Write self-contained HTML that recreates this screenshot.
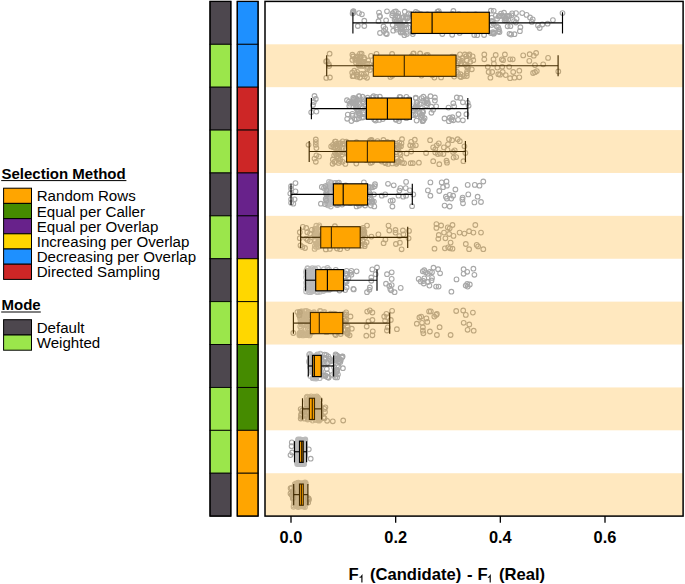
<!DOCTYPE html><html><head><meta charset="utf-8"><style>html,body{margin:0;padding:0;background:#fff;}svg{display:block;}text{font-family:"Liberation Sans",sans-serif;}</style></head><body><svg width="685" height="584" viewBox="0 0 685 584"><rect width="685" height="584" fill="#fff"/><rect x="210.0" y="1.40" width="20.85" height="42.89" fill="#4d474e" stroke="#000" stroke-width="0.9"/><rect x="210.0" y="44.29" width="20.85" height="42.89" fill="#9be64b" stroke="#000" stroke-width="0.9"/><rect x="210.0" y="87.18" width="20.85" height="42.89" fill="#4d474e" stroke="#000" stroke-width="0.9"/><rect x="210.0" y="130.08" width="20.85" height="42.89" fill="#9be64b" stroke="#000" stroke-width="0.9"/><rect x="210.0" y="172.97" width="20.85" height="42.89" fill="#4d474e" stroke="#000" stroke-width="0.9"/><rect x="210.0" y="215.86" width="20.85" height="42.89" fill="#9be64b" stroke="#000" stroke-width="0.9"/><rect x="210.0" y="258.75" width="20.85" height="42.89" fill="#4d474e" stroke="#000" stroke-width="0.9"/><rect x="210.0" y="301.64" width="20.85" height="42.89" fill="#9be64b" stroke="#000" stroke-width="0.9"/><rect x="210.0" y="344.53" width="20.85" height="42.89" fill="#4d474e" stroke="#000" stroke-width="0.9"/><rect x="210.0" y="387.43" width="20.85" height="42.89" fill="#9be64b" stroke="#000" stroke-width="0.9"/><rect x="210.0" y="430.32" width="20.85" height="42.89" fill="#9be64b" stroke="#000" stroke-width="0.9"/><rect x="210.0" y="473.21" width="20.85" height="42.89" fill="#4d474e" stroke="#000" stroke-width="0.9"/><rect x="210.0" y="1.40" width="20.85" height="514.70" fill="none" stroke="#000" stroke-width="1.3"/><rect x="237.25" y="1.40" width="20.85" height="42.89" fill="#1e90ff" stroke="#000" stroke-width="0.9"/><rect x="237.25" y="44.29" width="20.85" height="42.89" fill="#1e90ff" stroke="#000" stroke-width="0.9"/><rect x="237.25" y="87.18" width="20.85" height="42.89" fill="#cd2626" stroke="#000" stroke-width="0.9"/><rect x="237.25" y="130.08" width="20.85" height="42.89" fill="#cd2626" stroke="#000" stroke-width="0.9"/><rect x="237.25" y="172.97" width="20.85" height="42.89" fill="#68228b" stroke="#000" stroke-width="0.9"/><rect x="237.25" y="215.86" width="20.85" height="42.89" fill="#68228b" stroke="#000" stroke-width="0.9"/><rect x="237.25" y="258.75" width="20.85" height="42.89" fill="#ffd700" stroke="#000" stroke-width="0.9"/><rect x="237.25" y="301.64" width="20.85" height="42.89" fill="#ffd700" stroke="#000" stroke-width="0.9"/><rect x="237.25" y="344.53" width="20.85" height="42.89" fill="#458b00" stroke="#000" stroke-width="0.9"/><rect x="237.25" y="387.43" width="20.85" height="42.89" fill="#458b00" stroke="#000" stroke-width="0.9"/><rect x="237.25" y="430.32" width="20.85" height="42.89" fill="#ffa500" stroke="#000" stroke-width="0.9"/><rect x="237.25" y="473.21" width="20.85" height="42.89" fill="#ffa500" stroke="#000" stroke-width="0.9"/><rect x="237.25" y="1.40" width="20.85" height="514.70" fill="none" stroke="#000" stroke-width="1.3"/><g fill="none" stroke="#bababa" stroke-width="1.1"><circle cx="330.8" cy="191.8" r="2.35"/><circle cx="331.8" cy="188.5" r="2.35"/><circle cx="332.9" cy="196.3" r="2.35"/><circle cx="329.2" cy="201.0" r="2.35"/><circle cx="329.7" cy="186.3" r="2.35"/><circle cx="331.5" cy="183.1" r="2.35"/><circle cx="331.9" cy="188.3" r="2.35"/><circle cx="330.8" cy="206.5" r="2.35"/><circle cx="330.5" cy="198.5" r="2.35"/><circle cx="328.9" cy="182.0" r="2.35"/><circle cx="327.2" cy="185.6" r="2.35"/><circle cx="330.7" cy="192.7" r="2.35"/><circle cx="330.1" cy="204.3" r="2.35"/><circle cx="327.8" cy="187.6" r="2.35"/><circle cx="330.9" cy="182.5" r="2.35"/><circle cx="327.0" cy="190.8" r="2.35"/><circle cx="327.6" cy="190.8" r="2.35"/><circle cx="328.3" cy="196.5" r="2.35"/><circle cx="330.5" cy="187.0" r="2.35"/><circle cx="330.7" cy="193.8" r="2.35"/><circle cx="327.8" cy="205.3" r="2.35"/><circle cx="328.5" cy="185.6" r="2.35"/><circle cx="327.6" cy="197.9" r="2.35"/><circle cx="332.2" cy="201.5" r="2.35"/><circle cx="329.4" cy="188.5" r="2.35"/><circle cx="327.1" cy="198.0" r="2.35"/><circle cx="330.4" cy="190.7" r="2.35"/><circle cx="330.9" cy="193.0" r="2.35"/><circle cx="332.6" cy="200.3" r="2.35"/><circle cx="328.5" cy="204.5" r="2.35"/><circle cx="327.3" cy="195.2" r="2.35"/><circle cx="329.4" cy="187.9" r="2.35"/><circle cx="327.4" cy="201.4" r="2.35"/><circle cx="327.1" cy="195.7" r="2.35"/><circle cx="332.6" cy="185.5" r="2.35"/><circle cx="328.2" cy="197.1" r="2.35"/><circle cx="330.0" cy="198.0" r="2.35"/><circle cx="331.9" cy="186.3" r="2.35"/><circle cx="328.9" cy="189.4" r="2.35"/><circle cx="327.3" cy="204.1" r="2.35"/><circle cx="331.7" cy="199.8" r="2.35"/><circle cx="327.0" cy="203.0" r="2.35"/><circle cx="331.5" cy="193.5" r="2.35"/><circle cx="331.5" cy="193.2" r="2.35"/><circle cx="328.4" cy="184.5" r="2.35"/><circle cx="317.8" cy="233.7" r="2.35"/><circle cx="316.4" cy="234.7" r="2.35"/><circle cx="319.3" cy="227.0" r="2.35"/><circle cx="319.3" cy="225.4" r="2.35"/><circle cx="315.2" cy="231.4" r="2.35"/><circle cx="319.4" cy="237.3" r="2.35"/><circle cx="316.3" cy="246.9" r="2.35"/><circle cx="315.4" cy="236.3" r="2.35"/><circle cx="317.2" cy="243.7" r="2.35"/><circle cx="318.5" cy="241.0" r="2.35"/><circle cx="316.1" cy="233.0" r="2.35"/><circle cx="314.9" cy="245.9" r="2.35"/><circle cx="318.0" cy="243.4" r="2.35"/><circle cx="315.0" cy="235.8" r="2.35"/><circle cx="318.6" cy="239.3" r="2.35"/><circle cx="314.8" cy="236.4" r="2.35"/><circle cx="319.3" cy="230.8" r="2.35"/><circle cx="315.1" cy="232.3" r="2.35"/><circle cx="318.2" cy="245.9" r="2.35"/><circle cx="314.9" cy="228.7" r="2.35"/><circle cx="315.5" cy="233.0" r="2.35"/><circle cx="317.1" cy="228.8" r="2.35"/><circle cx="316.0" cy="229.5" r="2.35"/><circle cx="319.9" cy="243.0" r="2.35"/><circle cx="314.6" cy="248.9" r="2.35"/><circle cx="314.6" cy="234.4" r="2.35"/><circle cx="319.9" cy="244.7" r="2.35"/><circle cx="318.4" cy="235.7" r="2.35"/><circle cx="315.2" cy="240.8" r="2.35"/><circle cx="314.6" cy="230.0" r="2.35"/><circle cx="316.3" cy="225.7" r="2.35"/><circle cx="316.4" cy="244.6" r="2.35"/><circle cx="318.2" cy="237.3" r="2.35"/><circle cx="317.8" cy="236.4" r="2.35"/><circle cx="314.9" cy="239.9" r="2.35"/><circle cx="316.4" cy="243.3" r="2.35"/><circle cx="319.4" cy="235.6" r="2.35"/><circle cx="317.4" cy="243.5" r="2.35"/><circle cx="316.5" cy="230.5" r="2.35"/><circle cx="318.3" cy="246.8" r="2.35"/><circle cx="312.3" cy="268.1" r="2.35"/><circle cx="306.1" cy="291.5" r="2.35"/><circle cx="312.6" cy="273.9" r="2.35"/><circle cx="307.0" cy="271.3" r="2.35"/><circle cx="308.3" cy="287.1" r="2.35"/><circle cx="309.5" cy="271.5" r="2.35"/><circle cx="315.0" cy="287.5" r="2.35"/><circle cx="307.7" cy="290.0" r="2.35"/><circle cx="312.1" cy="287.2" r="2.35"/><circle cx="312.7" cy="290.0" r="2.35"/><circle cx="313.9" cy="288.7" r="2.35"/><circle cx="308.0" cy="285.0" r="2.35"/><circle cx="311.3" cy="286.2" r="2.35"/><circle cx="310.4" cy="289.8" r="2.35"/><circle cx="311.6" cy="274.3" r="2.35"/><circle cx="308.3" cy="271.2" r="2.35"/><circle cx="310.9" cy="269.2" r="2.35"/><circle cx="310.7" cy="271.3" r="2.35"/><circle cx="310.9" cy="280.2" r="2.35"/><circle cx="311.4" cy="289.3" r="2.35"/><circle cx="306.1" cy="288.7" r="2.35"/><circle cx="310.7" cy="281.8" r="2.35"/><circle cx="312.7" cy="288.7" r="2.35"/><circle cx="309.7" cy="278.2" r="2.35"/><circle cx="315.6" cy="269.6" r="2.35"/><circle cx="312.4" cy="283.6" r="2.35"/><circle cx="306.3" cy="282.9" r="2.35"/><circle cx="312.8" cy="291.0" r="2.35"/><circle cx="309.3" cy="292.2" r="2.35"/><circle cx="311.1" cy="279.8" r="2.35"/><circle cx="315.0" cy="268.5" r="2.35"/><circle cx="313.2" cy="283.3" r="2.35"/><circle cx="309.4" cy="289.2" r="2.35"/><circle cx="309.7" cy="279.6" r="2.35"/><circle cx="311.3" cy="287.0" r="2.35"/><circle cx="308.1" cy="278.6" r="2.35"/><circle cx="310.2" cy="281.5" r="2.35"/><circle cx="314.3" cy="275.0" r="2.35"/><circle cx="314.3" cy="277.8" r="2.35"/><circle cx="311.0" cy="274.5" r="2.35"/><circle cx="311.1" cy="292.1" r="2.35"/><circle cx="312.5" cy="287.5" r="2.35"/><circle cx="309.3" cy="275.6" r="2.35"/><circle cx="309.0" cy="282.4" r="2.35"/><circle cx="312.3" cy="287.3" r="2.35"/><circle cx="306.4" cy="285.8" r="2.35"/><circle cx="314.9" cy="281.3" r="2.35"/><circle cx="306.5" cy="275.2" r="2.35"/><circle cx="306.1" cy="272.4" r="2.35"/><circle cx="315.2" cy="282.9" r="2.35"/><circle cx="312.6" cy="287.4" r="2.35"/><circle cx="315.1" cy="283.0" r="2.35"/><circle cx="312.2" cy="283.4" r="2.35"/><circle cx="313.0" cy="282.6" r="2.35"/><circle cx="312.8" cy="273.0" r="2.35"/><circle cx="312.7" cy="279.1" r="2.35"/><circle cx="313.6" cy="270.2" r="2.35"/><circle cx="307.8" cy="268.6" r="2.35"/><circle cx="313.7" cy="290.5" r="2.35"/><circle cx="312.6" cy="276.9" r="2.35"/><circle cx="314.2" cy="287.4" r="2.35"/><circle cx="311.6" cy="274.1" r="2.35"/><circle cx="309.0" cy="278.2" r="2.35"/><circle cx="309.2" cy="278.5" r="2.35"/><circle cx="312.4" cy="291.0" r="2.35"/><circle cx="306.5" cy="281.9" r="2.35"/><circle cx="306.4" cy="270.7" r="2.35"/><circle cx="314.1" cy="282.1" r="2.35"/><circle cx="315.2" cy="278.9" r="2.35"/><circle cx="306.1" cy="277.4" r="2.35"/><circle cx="311.9" cy="291.1" r="2.35"/><circle cx="315.8" cy="279.6" r="2.35"/><circle cx="310.1" cy="270.2" r="2.35"/><circle cx="312.4" cy="273.0" r="2.35"/><circle cx="307.5" cy="268.1" r="2.35"/><circle cx="316.1" cy="284.8" r="2.35"/><circle cx="317.9" cy="291.9" r="2.35"/><circle cx="317.4" cy="289.4" r="2.35"/><circle cx="318.1" cy="268.1" r="2.35"/><circle cx="327.5" cy="273.8" r="2.35"/><circle cx="327.7" cy="272.4" r="2.35"/><circle cx="316.8" cy="287.0" r="2.35"/><circle cx="327.4" cy="289.1" r="2.35"/><circle cx="327.7" cy="269.8" r="2.35"/><circle cx="326.1" cy="285.4" r="2.35"/><circle cx="323.4" cy="291.0" r="2.35"/><circle cx="320.1" cy="291.8" r="2.35"/><circle cx="327.5" cy="268.0" r="2.35"/><circle cx="316.2" cy="284.0" r="2.35"/><circle cx="329.1" cy="269.7" r="2.35"/><circle cx="321.0" cy="285.9" r="2.35"/><circle cx="318.7" cy="289.2" r="2.35"/><circle cx="323.8" cy="269.2" r="2.35"/><circle cx="321.9" cy="282.1" r="2.35"/><circle cx="323.0" cy="284.6" r="2.35"/><circle cx="318.3" cy="287.6" r="2.35"/><circle cx="321.8" cy="283.8" r="2.35"/><circle cx="326.1" cy="278.1" r="2.35"/><circle cx="322.2" cy="287.4" r="2.35"/><circle cx="331.1" cy="287.3" r="2.35"/><circle cx="325.1" cy="275.0" r="2.35"/><circle cx="317.0" cy="292.0" r="2.35"/><circle cx="327.3" cy="288.4" r="2.35"/><circle cx="321.3" cy="282.8" r="2.35"/><circle cx="331.6" cy="288.5" r="2.35"/><circle cx="325.6" cy="275.4" r="2.35"/><circle cx="322.9" cy="289.9" r="2.35"/><circle cx="322.0" cy="284.8" r="2.35"/><circle cx="325.6" cy="290.1" r="2.35"/><circle cx="328.9" cy="274.8" r="2.35"/><circle cx="316.0" cy="274.3" r="2.35"/><circle cx="322.8" cy="282.4" r="2.35"/><circle cx="329.1" cy="289.9" r="2.35"/><circle cx="316.7" cy="288.5" r="2.35"/><circle cx="329.0" cy="289.4" r="2.35"/><circle cx="301.1" cy="315.4" r="2.35"/><circle cx="301.0" cy="328.1" r="2.35"/><circle cx="303.0" cy="324.7" r="2.35"/><circle cx="303.4" cy="323.5" r="2.35"/><circle cx="300.6" cy="311.7" r="2.35"/><circle cx="310.0" cy="319.9" r="2.35"/><circle cx="300.2" cy="326.4" r="2.35"/><circle cx="307.7" cy="314.5" r="2.35"/><circle cx="305.6" cy="319.2" r="2.35"/><circle cx="304.7" cy="311.1" r="2.35"/><circle cx="299.4" cy="335.3" r="2.35"/><circle cx="308.5" cy="322.7" r="2.35"/><circle cx="305.2" cy="317.1" r="2.35"/><circle cx="307.6" cy="321.2" r="2.35"/><circle cx="309.4" cy="329.8" r="2.35"/><circle cx="308.0" cy="334.7" r="2.35"/><circle cx="301.8" cy="311.5" r="2.35"/><circle cx="301.2" cy="315.1" r="2.35"/><circle cx="299.9" cy="311.9" r="2.35"/><circle cx="305.1" cy="332.4" r="2.35"/><circle cx="304.0" cy="334.3" r="2.35"/><circle cx="309.0" cy="312.2" r="2.35"/><circle cx="305.6" cy="320.5" r="2.35"/><circle cx="300.3" cy="334.6" r="2.35"/><circle cx="301.8" cy="324.7" r="2.35"/><circle cx="306.0" cy="334.5" r="2.35"/><circle cx="306.4" cy="320.4" r="2.35"/><circle cx="303.9" cy="314.6" r="2.35"/><circle cx="309.6" cy="335.4" r="2.35"/><circle cx="301.4" cy="311.6" r="2.35"/><circle cx="301.8" cy="319.4" r="2.35"/><circle cx="308.9" cy="333.2" r="2.35"/><circle cx="308.2" cy="311.8" r="2.35"/><circle cx="307.7" cy="328.3" r="2.35"/><circle cx="306.1" cy="335.2" r="2.35"/><circle cx="299.6" cy="314.2" r="2.35"/><circle cx="307.3" cy="334.1" r="2.35"/><circle cx="306.4" cy="318.1" r="2.35"/><circle cx="305.5" cy="329.5" r="2.35"/><circle cx="300.2" cy="318.7" r="2.35"/><circle cx="301.8" cy="313.7" r="2.35"/><circle cx="304.3" cy="314.8" r="2.35"/><circle cx="301.6" cy="314.2" r="2.35"/><circle cx="306.5" cy="310.9" r="2.35"/><circle cx="306.9" cy="315.5" r="2.35"/><circle cx="299.4" cy="333.8" r="2.35"/><circle cx="301.4" cy="333.9" r="2.35"/><circle cx="308.5" cy="332.8" r="2.35"/><circle cx="300.5" cy="321.8" r="2.35"/><circle cx="300.1" cy="333.8" r="2.35"/><circle cx="308.3" cy="326.3" r="2.35"/><circle cx="304.0" cy="319.1" r="2.35"/><circle cx="308.1" cy="322.5" r="2.35"/><circle cx="305.9" cy="314.2" r="2.35"/><circle cx="301.4" cy="312.0" r="2.35"/><circle cx="306.9" cy="324.4" r="2.35"/><circle cx="300.6" cy="332.4" r="2.35"/><circle cx="301.9" cy="320.9" r="2.35"/><circle cx="300.7" cy="317.4" r="2.35"/><circle cx="308.2" cy="319.0" r="2.35"/><circle cx="300.8" cy="322.9" r="2.35"/><circle cx="302.5" cy="333.2" r="2.35"/><circle cx="300.3" cy="335.1" r="2.35"/><circle cx="299.6" cy="333.0" r="2.35"/><circle cx="306.4" cy="315.9" r="2.35"/><circle cx="304.3" cy="317.7" r="2.35"/><circle cx="301.8" cy="315.6" r="2.35"/><circle cx="303.0" cy="335.4" r="2.35"/><circle cx="310.0" cy="333.7" r="2.35"/><circle cx="300.1" cy="317.8" r="2.35"/><circle cx="326.6" cy="323.8" r="2.35"/><circle cx="313.7" cy="321.5" r="2.35"/><circle cx="328.2" cy="316.0" r="2.35"/><circle cx="321.4" cy="314.0" r="2.35"/><circle cx="313.6" cy="329.8" r="2.35"/><circle cx="324.2" cy="315.5" r="2.35"/><circle cx="311.6" cy="312.8" r="2.35"/><circle cx="322.2" cy="323.0" r="2.35"/><circle cx="315.5" cy="315.7" r="2.35"/><circle cx="322.2" cy="328.3" r="2.35"/><circle cx="326.2" cy="325.2" r="2.35"/><circle cx="314.0" cy="312.2" r="2.35"/><circle cx="324.7" cy="320.8" r="2.35"/><circle cx="324.4" cy="312.0" r="2.35"/><circle cx="326.2" cy="319.0" r="2.35"/><circle cx="326.8" cy="332.2" r="2.35"/><circle cx="319.9" cy="311.0" r="2.35"/><circle cx="328.2" cy="322.5" r="2.35"/><circle cx="327.4" cy="317.2" r="2.35"/><circle cx="313.7" cy="331.4" r="2.35"/><circle cx="317.3" cy="314.7" r="2.35"/><circle cx="317.4" cy="325.5" r="2.35"/><circle cx="310.1" cy="323.6" r="2.35"/><circle cx="318.9" cy="323.5" r="2.35"/><circle cx="312.4" cy="328.5" r="2.35"/><circle cx="326.3" cy="332.2" r="2.35"/><circle cx="316.4" cy="328.4" r="2.35"/><circle cx="317.6" cy="329.4" r="2.35"/><circle cx="311.2" cy="332.4" r="2.35"/><circle cx="329.1" cy="323.0" r="2.35"/><circle cx="320.3" cy="323.9" r="2.35"/><circle cx="320.7" cy="311.1" r="2.35"/><circle cx="329.3" cy="316.2" r="2.35"/><circle cx="313.6" cy="313.2" r="2.35"/><circle cx="315.0" cy="331.0" r="2.35"/><circle cx="310.6" cy="313.0" r="2.35"/><circle cx="324.0" cy="315.5" r="2.35"/><circle cx="310.4" cy="325.6" r="2.35"/><circle cx="321.5" cy="323.7" r="2.35"/><circle cx="324.1" cy="313.2" r="2.35"/><circle cx="320.5" cy="354.3" r="2.35"/><circle cx="317.3" cy="360.1" r="2.35"/><circle cx="317.8" cy="360.3" r="2.35"/><circle cx="316.0" cy="376.6" r="2.35"/><circle cx="317.1" cy="359.7" r="2.35"/><circle cx="315.8" cy="364.3" r="2.35"/><circle cx="321.4" cy="360.7" r="2.35"/><circle cx="313.0" cy="369.7" r="2.35"/><circle cx="310.6" cy="368.3" r="2.35"/><circle cx="321.4" cy="366.3" r="2.35"/><circle cx="312.5" cy="365.1" r="2.35"/><circle cx="315.9" cy="357.2" r="2.35"/><circle cx="310.6" cy="356.8" r="2.35"/><circle cx="312.8" cy="363.6" r="2.35"/><circle cx="312.7" cy="359.6" r="2.35"/><circle cx="310.1" cy="367.1" r="2.35"/><circle cx="319.9" cy="368.7" r="2.35"/><circle cx="316.4" cy="369.7" r="2.35"/><circle cx="311.6" cy="371.2" r="2.35"/><circle cx="315.0" cy="367.2" r="2.35"/><circle cx="317.0" cy="365.2" r="2.35"/><circle cx="313.0" cy="359.5" r="2.35"/><circle cx="311.9" cy="366.3" r="2.35"/><circle cx="314.0" cy="368.1" r="2.35"/><circle cx="309.2" cy="362.3" r="2.35"/><circle cx="320.2" cy="359.4" r="2.35"/><circle cx="316.2" cy="365.8" r="2.35"/><circle cx="312.7" cy="378.2" r="2.35"/><circle cx="312.8" cy="372.8" r="2.35"/><circle cx="311.1" cy="355.1" r="2.35"/><circle cx="320.3" cy="364.5" r="2.35"/><circle cx="309.8" cy="363.2" r="2.35"/><circle cx="314.7" cy="371.9" r="2.35"/><circle cx="310.4" cy="359.1" r="2.35"/><circle cx="321.5" cy="371.9" r="2.35"/><circle cx="311.0" cy="361.9" r="2.35"/><circle cx="313.6" cy="370.4" r="2.35"/><circle cx="317.0" cy="374.7" r="2.35"/><circle cx="319.7" cy="366.4" r="2.35"/><circle cx="318.6" cy="372.1" r="2.35"/><circle cx="318.9" cy="365.4" r="2.35"/><circle cx="319.2" cy="371.2" r="2.35"/><circle cx="320.9" cy="356.7" r="2.35"/><circle cx="320.3" cy="353.6" r="2.35"/><circle cx="319.0" cy="368.1" r="2.35"/><circle cx="315.5" cy="377.5" r="2.35"/><circle cx="316.4" cy="363.9" r="2.35"/><circle cx="319.2" cy="375.3" r="2.35"/><circle cx="316.9" cy="363.0" r="2.35"/><circle cx="314.9" cy="364.9" r="2.35"/><circle cx="318.4" cy="360.8" r="2.35"/><circle cx="314.1" cy="367.4" r="2.35"/><circle cx="314.0" cy="361.5" r="2.35"/><circle cx="319.2" cy="374.7" r="2.35"/><circle cx="315.5" cy="364.6" r="2.35"/><circle cx="311.4" cy="361.1" r="2.35"/><circle cx="310.9" cy="367.9" r="2.35"/><circle cx="316.6" cy="355.7" r="2.35"/><circle cx="321.0" cy="361.6" r="2.35"/><circle cx="320.0" cy="374.4" r="2.35"/><circle cx="321.5" cy="358.6" r="2.35"/><circle cx="314.5" cy="376.2" r="2.35"/><circle cx="309.1" cy="354.7" r="2.35"/><circle cx="316.3" cy="365.9" r="2.35"/><circle cx="321.0" cy="372.8" r="2.35"/><circle cx="316.0" cy="378.4" r="2.35"/><circle cx="315.7" cy="366.4" r="2.35"/><circle cx="317.9" cy="363.2" r="2.35"/><circle cx="313.7" cy="368.3" r="2.35"/><circle cx="313.6" cy="377.2" r="2.35"/><circle cx="317.8" cy="366.6" r="2.35"/><circle cx="310.3" cy="362.8" r="2.35"/><circle cx="314.2" cy="367.5" r="2.35"/><circle cx="316.5" cy="375.5" r="2.35"/><circle cx="321.5" cy="365.6" r="2.35"/><circle cx="314.7" cy="369.1" r="2.35"/><circle cx="321.9" cy="362.1" r="2.35"/><circle cx="315.9" cy="373.9" r="2.35"/><circle cx="311.2" cy="361.4" r="2.35"/><circle cx="321.7" cy="374.1" r="2.35"/><circle cx="315.7" cy="356.2" r="2.35"/><circle cx="320.6" cy="370.7" r="2.35"/><circle cx="319.7" cy="378.2" r="2.35"/><circle cx="320.5" cy="364.0" r="2.35"/><circle cx="311.0" cy="360.7" r="2.35"/><circle cx="315.7" cy="366.1" r="2.35"/><circle cx="311.4" cy="358.0" r="2.35"/><circle cx="317.2" cy="368.6" r="2.35"/><circle cx="313.6" cy="378.3" r="2.35"/><circle cx="317.3" cy="354.5" r="2.35"/><circle cx="314.3" cy="373.2" r="2.35"/><circle cx="313.0" cy="370.7" r="2.35"/><circle cx="309.1" cy="361.1" r="2.35"/><circle cx="319.9" cy="368.1" r="2.35"/><circle cx="317.7" cy="358.4" r="2.35"/><circle cx="315.5" cy="367.3" r="2.35"/><circle cx="312.5" cy="369.6" r="2.35"/><circle cx="315.9" cy="378.4" r="2.35"/><circle cx="316.5" cy="363.8" r="2.35"/><circle cx="310.6" cy="357.4" r="2.35"/><circle cx="318.9" cy="356.1" r="2.35"/><circle cx="310.3" cy="357.7" r="2.35"/><circle cx="315.8" cy="374.1" r="2.35"/><circle cx="317.0" cy="373.6" r="2.35"/><circle cx="309.8" cy="353.8" r="2.35"/><circle cx="319.0" cy="361.5" r="2.35"/><circle cx="318.3" cy="362.3" r="2.35"/><circle cx="311.2" cy="360.1" r="2.35"/><circle cx="310.3" cy="376.1" r="2.35"/><circle cx="316.6" cy="362.2" r="2.35"/><circle cx="310.7" cy="402.0" r="2.35"/><circle cx="307.9" cy="414.3" r="2.35"/><circle cx="310.2" cy="406.5" r="2.35"/><circle cx="319.6" cy="415.7" r="2.35"/><circle cx="319.2" cy="417.9" r="2.35"/><circle cx="308.0" cy="403.3" r="2.35"/><circle cx="306.4" cy="413.4" r="2.35"/><circle cx="316.0" cy="405.2" r="2.35"/><circle cx="312.2" cy="412.8" r="2.35"/><circle cx="316.5" cy="402.6" r="2.35"/><circle cx="318.7" cy="405.2" r="2.35"/><circle cx="315.4" cy="400.9" r="2.35"/><circle cx="307.7" cy="419.2" r="2.35"/><circle cx="317.0" cy="414.2" r="2.35"/><circle cx="306.6" cy="397.4" r="2.35"/><circle cx="308.4" cy="401.3" r="2.35"/><circle cx="310.5" cy="405.9" r="2.35"/><circle cx="306.6" cy="404.1" r="2.35"/><circle cx="315.6" cy="400.9" r="2.35"/><circle cx="318.6" cy="410.6" r="2.35"/><circle cx="316.7" cy="402.7" r="2.35"/><circle cx="312.5" cy="413.5" r="2.35"/><circle cx="311.2" cy="396.4" r="2.35"/><circle cx="318.5" cy="415.8" r="2.35"/><circle cx="310.3" cy="397.4" r="2.35"/><circle cx="318.8" cy="411.6" r="2.35"/><circle cx="306.7" cy="402.5" r="2.35"/><circle cx="307.7" cy="416.2" r="2.35"/><circle cx="309.2" cy="419.2" r="2.35"/><circle cx="317.2" cy="398.5" r="2.35"/><circle cx="316.4" cy="406.2" r="2.35"/><circle cx="317.2" cy="417.1" r="2.35"/><circle cx="310.2" cy="398.6" r="2.35"/><circle cx="320.2" cy="407.0" r="2.35"/><circle cx="320.0" cy="413.7" r="2.35"/><circle cx="317.1" cy="417.1" r="2.35"/><circle cx="315.4" cy="407.7" r="2.35"/><circle cx="306.8" cy="413.8" r="2.35"/><circle cx="312.4" cy="409.2" r="2.35"/><circle cx="319.9" cy="399.6" r="2.35"/><circle cx="317.4" cy="397.5" r="2.35"/><circle cx="316.5" cy="416.5" r="2.35"/><circle cx="309.9" cy="410.0" r="2.35"/><circle cx="320.5" cy="412.3" r="2.35"/><circle cx="314.2" cy="402.6" r="2.35"/><circle cx="306.9" cy="405.3" r="2.35"/><circle cx="312.2" cy="401.4" r="2.35"/><circle cx="310.7" cy="399.8" r="2.35"/><circle cx="316.6" cy="413.1" r="2.35"/><circle cx="309.6" cy="402.4" r="2.35"/><circle cx="313.7" cy="407.5" r="2.35"/><circle cx="320.0" cy="405.2" r="2.35"/><circle cx="310.5" cy="418.5" r="2.35"/><circle cx="308.1" cy="410.5" r="2.35"/><circle cx="311.0" cy="416.8" r="2.35"/><circle cx="314.2" cy="415.4" r="2.35"/><circle cx="308.5" cy="413.0" r="2.35"/><circle cx="315.0" cy="407.9" r="2.35"/><circle cx="317.5" cy="417.2" r="2.35"/><circle cx="307.7" cy="403.6" r="2.35"/><circle cx="311.4" cy="401.5" r="2.35"/><circle cx="306.9" cy="403.4" r="2.35"/><circle cx="309.0" cy="413.9" r="2.35"/><circle cx="312.7" cy="399.2" r="2.35"/><circle cx="310.9" cy="408.1" r="2.35"/><circle cx="311.4" cy="400.6" r="2.35"/><circle cx="307.1" cy="396.6" r="2.35"/><circle cx="320.9" cy="415.1" r="2.35"/><circle cx="307.3" cy="414.3" r="2.35"/><circle cx="320.7" cy="410.5" r="2.35"/><circle cx="307.6" cy="408.6" r="2.35"/><circle cx="312.5" cy="401.1" r="2.35"/><circle cx="314.1" cy="396.6" r="2.35"/><circle cx="319.8" cy="412.5" r="2.35"/><circle cx="315.4" cy="419.8" r="2.35"/><circle cx="315.8" cy="402.7" r="2.35"/><circle cx="309.7" cy="399.8" r="2.35"/><circle cx="306.4" cy="415.7" r="2.35"/><circle cx="318.6" cy="403.8" r="2.35"/><circle cx="308.8" cy="412.3" r="2.35"/><circle cx="318.7" cy="419.5" r="2.35"/><circle cx="308.5" cy="416.0" r="2.35"/><circle cx="318.5" cy="414.9" r="2.35"/><circle cx="310.9" cy="401.0" r="2.35"/><circle cx="318.4" cy="404.4" r="2.35"/><circle cx="311.5" cy="410.1" r="2.35"/><circle cx="311.5" cy="417.2" r="2.35"/><circle cx="309.6" cy="397.4" r="2.35"/><circle cx="314.5" cy="412.1" r="2.35"/><circle cx="318.3" cy="414.0" r="2.35"/><circle cx="319.6" cy="420.0" r="2.35"/><circle cx="313.4" cy="408.9" r="2.35"/><circle cx="308.4" cy="403.9" r="2.35"/><circle cx="314.7" cy="398.4" r="2.35"/><circle cx="316.3" cy="400.5" r="2.35"/><circle cx="312.6" cy="420.6" r="2.35"/><circle cx="307.3" cy="397.4" r="2.35"/><circle cx="312.6" cy="401.1" r="2.35"/><circle cx="316.8" cy="396.4" r="2.35"/><circle cx="318.6" cy="417.8" r="2.35"/><circle cx="317.8" cy="407.0" r="2.35"/><circle cx="310.2" cy="412.9" r="2.35"/><circle cx="313.7" cy="406.9" r="2.35"/><circle cx="311.1" cy="407.3" r="2.35"/><circle cx="316.0" cy="417.0" r="2.35"/><circle cx="319.6" cy="400.5" r="2.35"/><circle cx="310.4" cy="407.4" r="2.35"/><circle cx="314.5" cy="405.1" r="2.35"/><circle cx="308.9" cy="398.5" r="2.35"/><circle cx="310.9" cy="407.9" r="2.35"/><circle cx="320.6" cy="419.1" r="2.35"/><circle cx="319.0" cy="420.7" r="2.35"/><circle cx="320.4" cy="411.9" r="2.35"/><circle cx="318.2" cy="397.9" r="2.35"/><circle cx="316.1" cy="411.6" r="2.35"/><circle cx="310.5" cy="410.6" r="2.35"/><circle cx="320.3" cy="408.4" r="2.35"/><circle cx="315.7" cy="403.9" r="2.35"/><circle cx="311.2" cy="418.5" r="2.35"/><circle cx="306.4" cy="401.1" r="2.35"/><circle cx="316.2" cy="407.6" r="2.35"/><circle cx="307.3" cy="412.9" r="2.35"/><circle cx="311.6" cy="410.9" r="2.35"/><circle cx="312.2" cy="409.6" r="2.35"/><circle cx="314.5" cy="406.3" r="2.35"/><circle cx="307.7" cy="400.9" r="2.35"/><circle cx="319.3" cy="410.1" r="2.35"/><circle cx="307.7" cy="417.9" r="2.35"/><circle cx="309.8" cy="398.7" r="2.35"/><circle cx="314.0" cy="402.7" r="2.35"/><circle cx="313.3" cy="410.2" r="2.35"/><circle cx="309.4" cy="410.7" r="2.35"/><circle cx="307.7" cy="409.2" r="2.35"/><circle cx="314.8" cy="398.4" r="2.35"/><circle cx="312.1" cy="398.2" r="2.35"/><circle cx="312.6" cy="418.0" r="2.35"/><circle cx="314.3" cy="414.2" r="2.35"/><circle cx="317.4" cy="399.2" r="2.35"/><circle cx="320.9" cy="414.4" r="2.35"/><circle cx="307.5" cy="417.1" r="2.35"/><circle cx="311.9" cy="400.7" r="2.35"/><circle cx="320.4" cy="410.4" r="2.35"/><circle cx="317.6" cy="399.8" r="2.35"/><circle cx="317.6" cy="397.8" r="2.35"/><circle cx="309.6" cy="405.7" r="2.35"/><circle cx="306.2" cy="411.2" r="2.35"/><circle cx="309.2" cy="403.9" r="2.35"/><circle cx="316.6" cy="407.0" r="2.35"/><circle cx="319.3" cy="411.9" r="2.35"/><circle cx="319.1" cy="410.4" r="2.35"/><circle cx="319.8" cy="418.1" r="2.35"/><circle cx="308.5" cy="415.0" r="2.35"/><circle cx="311.1" cy="415.5" r="2.35"/><circle cx="316.2" cy="417.0" r="2.35"/><circle cx="307.8" cy="405.7" r="2.35"/><circle cx="317.1" cy="420.1" r="2.35"/><circle cx="316.8" cy="397.5" r="2.35"/><circle cx="315.1" cy="398.9" r="2.35"/><circle cx="314.2" cy="416.4" r="2.35"/><circle cx="307.7" cy="419.5" r="2.35"/><circle cx="304.0" cy="449.1" r="2.35"/><circle cx="304.2" cy="454.5" r="2.35"/><circle cx="297.6" cy="447.5" r="2.35"/><circle cx="298.8" cy="461.6" r="2.35"/><circle cx="301.9" cy="440.4" r="2.35"/><circle cx="298.4" cy="448.3" r="2.35"/><circle cx="300.9" cy="453.7" r="2.35"/><circle cx="300.2" cy="448.1" r="2.35"/><circle cx="297.0" cy="453.7" r="2.35"/><circle cx="299.8" cy="439.8" r="2.35"/><circle cx="300.8" cy="463.9" r="2.35"/><circle cx="297.4" cy="442.9" r="2.35"/><circle cx="302.6" cy="446.1" r="2.35"/><circle cx="299.3" cy="451.8" r="2.35"/><circle cx="299.2" cy="453.5" r="2.35"/><circle cx="301.4" cy="463.2" r="2.35"/><circle cx="305.2" cy="440.1" r="2.35"/><circle cx="301.7" cy="458.5" r="2.35"/><circle cx="304.2" cy="458.6" r="2.35"/><circle cx="302.3" cy="455.1" r="2.35"/><circle cx="300.0" cy="446.3" r="2.35"/><circle cx="303.6" cy="461.1" r="2.35"/><circle cx="304.8" cy="456.3" r="2.35"/><circle cx="299.5" cy="458.3" r="2.35"/><circle cx="303.1" cy="452.0" r="2.35"/><circle cx="302.3" cy="448.0" r="2.35"/><circle cx="301.6" cy="449.4" r="2.35"/><circle cx="297.5" cy="447.7" r="2.35"/><circle cx="299.7" cy="464.0" r="2.35"/><circle cx="301.0" cy="448.4" r="2.35"/><circle cx="299.0" cy="445.1" r="2.35"/><circle cx="299.9" cy="442.7" r="2.35"/><circle cx="297.1" cy="461.0" r="2.35"/><circle cx="300.8" cy="450.4" r="2.35"/><circle cx="301.7" cy="446.8" r="2.35"/><circle cx="298.4" cy="440.9" r="2.35"/><circle cx="299.5" cy="447.0" r="2.35"/><circle cx="303.0" cy="453.0" r="2.35"/><circle cx="304.8" cy="447.8" r="2.35"/><circle cx="304.6" cy="453.8" r="2.35"/><circle cx="297.7" cy="443.7" r="2.35"/><circle cx="301.8" cy="463.9" r="2.35"/><circle cx="300.0" cy="458.6" r="2.35"/><circle cx="300.6" cy="461.0" r="2.35"/><circle cx="297.6" cy="451.4" r="2.35"/><circle cx="304.5" cy="446.2" r="2.35"/><circle cx="299.1" cy="439.8" r="2.35"/><circle cx="298.4" cy="446.0" r="2.35"/><circle cx="302.8" cy="444.7" r="2.35"/><circle cx="300.3" cy="444.3" r="2.35"/><circle cx="302.0" cy="460.9" r="2.35"/><circle cx="302.4" cy="444.2" r="2.35"/><circle cx="303.1" cy="463.3" r="2.35"/><circle cx="302.0" cy="441.2" r="2.35"/><circle cx="303.7" cy="461.2" r="2.35"/><circle cx="299.8" cy="442.7" r="2.35"/><circle cx="298.6" cy="452.7" r="2.35"/><circle cx="304.3" cy="455.3" r="2.35"/><circle cx="304.7" cy="444.6" r="2.35"/><circle cx="299.7" cy="458.0" r="2.35"/><circle cx="302.4" cy="449.4" r="2.35"/><circle cx="302.6" cy="447.7" r="2.35"/><circle cx="297.5" cy="449.6" r="2.35"/><circle cx="297.4" cy="454.9" r="2.35"/><circle cx="299.8" cy="451.6" r="2.35"/><circle cx="302.0" cy="445.7" r="2.35"/><circle cx="300.8" cy="439.6" r="2.35"/><circle cx="304.7" cy="453.4" r="2.35"/><circle cx="305.2" cy="440.7" r="2.35"/><circle cx="302.1" cy="457.4" r="2.35"/><circle cx="299.7" cy="441.6" r="2.35"/><circle cx="298.3" cy="442.8" r="2.35"/><circle cx="303.4" cy="441.5" r="2.35"/><circle cx="303.8" cy="449.8" r="2.35"/><circle cx="301.5" cy="454.0" r="2.35"/><circle cx="301.6" cy="455.7" r="2.35"/><circle cx="302.0" cy="447.5" r="2.35"/><circle cx="303.2" cy="445.7" r="2.35"/><circle cx="302.9" cy="458.3" r="2.35"/><circle cx="303.4" cy="447.0" r="2.35"/><circle cx="303.4" cy="463.7" r="2.35"/><circle cx="300.8" cy="446.2" r="2.35"/><circle cx="301.3" cy="462.8" r="2.35"/><circle cx="298.1" cy="439.5" r="2.35"/><circle cx="300.9" cy="455.6" r="2.35"/><circle cx="303.4" cy="448.3" r="2.35"/><circle cx="305.2" cy="445.0" r="2.35"/><circle cx="303.3" cy="441.5" r="2.35"/><circle cx="297.2" cy="442.6" r="2.35"/><circle cx="297.5" cy="451.8" r="2.35"/><circle cx="301.6" cy="443.8" r="2.35"/><circle cx="304.8" cy="448.4" r="2.35"/><circle cx="298.2" cy="443.7" r="2.35"/><circle cx="303.1" cy="462.3" r="2.35"/><circle cx="298.3" cy="440.0" r="2.35"/><circle cx="303.5" cy="445.3" r="2.35"/><circle cx="305.2" cy="451.7" r="2.35"/><circle cx="302.3" cy="447.9" r="2.35"/><circle cx="303.6" cy="450.8" r="2.35"/><circle cx="299.7" cy="461.9" r="2.35"/><circle cx="297.9" cy="457.6" r="2.35"/><circle cx="297.5" cy="455.4" r="2.35"/><circle cx="300.3" cy="460.9" r="2.35"/><circle cx="297.5" cy="453.4" r="2.35"/><circle cx="300.4" cy="462.2" r="2.35"/><circle cx="304.8" cy="454.9" r="2.35"/><circle cx="298.9" cy="445.6" r="2.35"/><circle cx="299.2" cy="450.1" r="2.35"/><circle cx="298.9" cy="444.3" r="2.35"/><circle cx="303.3" cy="455.3" r="2.35"/><circle cx="299.5" cy="464.1" r="2.35"/><circle cx="298.8" cy="453.5" r="2.35"/><circle cx="298.3" cy="460.8" r="2.35"/><circle cx="304.2" cy="445.9" r="2.35"/><circle cx="303.2" cy="459.8" r="2.35"/><circle cx="299.3" cy="447.6" r="2.35"/><circle cx="301.0" cy="461.5" r="2.35"/><circle cx="298.3" cy="456.3" r="2.35"/><circle cx="302.0" cy="450.6" r="2.35"/><circle cx="301.8" cy="461.3" r="2.35"/><circle cx="298.7" cy="461.4" r="2.35"/><circle cx="300.0" cy="458.8" r="2.35"/><circle cx="304.2" cy="443.8" r="2.35"/><circle cx="304.2" cy="464.1" r="2.35"/><circle cx="299.5" cy="439.9" r="2.35"/><circle cx="297.9" cy="463.6" r="2.35"/><circle cx="297.1" cy="462.1" r="2.35"/><circle cx="298.3" cy="457.7" r="2.35"/><circle cx="297.8" cy="443.5" r="2.35"/><circle cx="302.7" cy="441.5" r="2.35"/><circle cx="299.8" cy="462.2" r="2.35"/><circle cx="302.9" cy="461.3" r="2.35"/><circle cx="305.1" cy="440.1" r="2.35"/><circle cx="298.9" cy="459.1" r="2.35"/><circle cx="302.7" cy="440.2" r="2.35"/><circle cx="301.2" cy="445.1" r="2.35"/><circle cx="300.6" cy="441.9" r="2.35"/><circle cx="297.2" cy="464.0" r="2.35"/><circle cx="299.6" cy="461.2" r="2.35"/><circle cx="298.0" cy="451.4" r="2.35"/><circle cx="298.1" cy="450.0" r="2.35"/><circle cx="298.5" cy="456.4" r="2.35"/><circle cx="298.2" cy="457.7" r="2.35"/><circle cx="301.2" cy="442.1" r="2.35"/><circle cx="299.9" cy="451.7" r="2.35"/><circle cx="304.6" cy="448.0" r="2.35"/><circle cx="298.8" cy="463.5" r="2.35"/><circle cx="304.3" cy="457.5" r="2.35"/><circle cx="299.3" cy="443.7" r="2.35"/><circle cx="299.2" cy="441.0" r="2.35"/><circle cx="297.4" cy="452.0" r="2.35"/><circle cx="300.4" cy="453.2" r="2.35"/><circle cx="300.0" cy="439.5" r="2.35"/><circle cx="302.7" cy="455.6" r="2.35"/><circle cx="301.5" cy="453.0" r="2.35"/><circle cx="302.7" cy="463.8" r="2.35"/><circle cx="304.3" cy="457.2" r="2.35"/><circle cx="300.3" cy="447.2" r="2.35"/><circle cx="300.5" cy="463.6" r="2.35"/><circle cx="300.2" cy="448.9" r="2.35"/><circle cx="300.4" cy="442.8" r="2.35"/><circle cx="305.3" cy="439.4" r="2.35"/><circle cx="302.0" cy="462.4" r="2.35"/><circle cx="299.1" cy="454.5" r="2.35"/><circle cx="300.1" cy="445.3" r="2.35"/><circle cx="298.6" cy="442.2" r="2.35"/><circle cx="304.0" cy="458.9" r="2.35"/><circle cx="304.5" cy="440.5" r="2.35"/><circle cx="302.8" cy="447.4" r="2.35"/><circle cx="302.4" cy="453.0" r="2.35"/><circle cx="299.6" cy="463.6" r="2.35"/><circle cx="297.0" cy="457.9" r="2.35"/><circle cx="304.1" cy="452.0" r="2.35"/><circle cx="301.9" cy="464.1" r="2.35"/><circle cx="298.9" cy="455.0" r="2.35"/><circle cx="303.2" cy="448.7" r="2.35"/><circle cx="302.9" cy="449.1" r="2.35"/><circle cx="301.4" cy="454.6" r="2.35"/><circle cx="302.6" cy="447.3" r="2.35"/><circle cx="302.2" cy="452.8" r="2.35"/><circle cx="298.9" cy="454.6" r="2.35"/><circle cx="299.2" cy="462.0" r="2.35"/><circle cx="300.9" cy="457.3" r="2.35"/><circle cx="301.3" cy="451.2" r="2.35"/><circle cx="298.8" cy="442.8" r="2.35"/><circle cx="304.7" cy="452.5" r="2.35"/><circle cx="301.3" cy="452.4" r="2.35"/><circle cx="303.8" cy="445.2" r="2.35"/><circle cx="298.4" cy="459.8" r="2.35"/><circle cx="300.8" cy="455.3" r="2.35"/><circle cx="303.8" cy="504.5" r="2.35"/><circle cx="304.3" cy="483.2" r="2.35"/><circle cx="298.3" cy="503.0" r="2.35"/><circle cx="303.7" cy="485.2" r="2.35"/><circle cx="295.4" cy="488.4" r="2.35"/><circle cx="294.8" cy="491.1" r="2.35"/><circle cx="303.5" cy="495.2" r="2.35"/><circle cx="299.2" cy="484.4" r="2.35"/><circle cx="298.4" cy="507.1" r="2.35"/><circle cx="302.2" cy="493.4" r="2.35"/><circle cx="299.5" cy="502.1" r="2.35"/><circle cx="303.0" cy="485.9" r="2.35"/><circle cx="302.0" cy="491.3" r="2.35"/><circle cx="300.0" cy="488.1" r="2.35"/><circle cx="298.1" cy="490.7" r="2.35"/><circle cx="298.3" cy="482.6" r="2.35"/><circle cx="296.0" cy="496.4" r="2.35"/><circle cx="294.2" cy="486.6" r="2.35"/><circle cx="302.5" cy="489.0" r="2.35"/><circle cx="297.6" cy="488.2" r="2.35"/><circle cx="303.9" cy="484.4" r="2.35"/><circle cx="301.5" cy="503.6" r="2.35"/><circle cx="296.0" cy="492.7" r="2.35"/><circle cx="303.4" cy="497.6" r="2.35"/><circle cx="298.1" cy="483.3" r="2.35"/><circle cx="299.0" cy="491.3" r="2.35"/><circle cx="302.4" cy="489.5" r="2.35"/><circle cx="298.6" cy="498.4" r="2.35"/><circle cx="303.6" cy="491.0" r="2.35"/><circle cx="298.3" cy="496.6" r="2.35"/><circle cx="305.1" cy="486.9" r="2.35"/><circle cx="305.6" cy="500.0" r="2.35"/><circle cx="298.2" cy="498.8" r="2.35"/><circle cx="297.6" cy="483.9" r="2.35"/><circle cx="303.0" cy="491.6" r="2.35"/><circle cx="300.1" cy="494.6" r="2.35"/><circle cx="304.8" cy="501.1" r="2.35"/><circle cx="293.8" cy="497.0" r="2.35"/><circle cx="299.3" cy="493.7" r="2.35"/><circle cx="304.0" cy="492.5" r="2.35"/><circle cx="299.4" cy="504.4" r="2.35"/><circle cx="299.0" cy="494.4" r="2.35"/><circle cx="299.9" cy="502.8" r="2.35"/><circle cx="301.9" cy="500.7" r="2.35"/><circle cx="298.5" cy="483.2" r="2.35"/><circle cx="302.0" cy="496.0" r="2.35"/><circle cx="303.1" cy="501.4" r="2.35"/><circle cx="295.0" cy="487.7" r="2.35"/><circle cx="294.5" cy="502.6" r="2.35"/><circle cx="294.8" cy="484.4" r="2.35"/><circle cx="302.9" cy="496.3" r="2.35"/><circle cx="294.2" cy="499.2" r="2.35"/><circle cx="302.4" cy="494.2" r="2.35"/><circle cx="294.2" cy="499.4" r="2.35"/><circle cx="298.7" cy="496.8" r="2.35"/><circle cx="306.0" cy="502.6" r="2.35"/><circle cx="304.4" cy="485.8" r="2.35"/><circle cx="297.7" cy="495.1" r="2.35"/><circle cx="293.6" cy="506.9" r="2.35"/><circle cx="296.9" cy="488.7" r="2.35"/><circle cx="297.4" cy="488.5" r="2.35"/><circle cx="304.2" cy="496.0" r="2.35"/><circle cx="299.9" cy="492.7" r="2.35"/><circle cx="294.1" cy="489.8" r="2.35"/><circle cx="304.3" cy="502.2" r="2.35"/><circle cx="304.2" cy="488.6" r="2.35"/><circle cx="296.0" cy="483.5" r="2.35"/><circle cx="300.2" cy="491.5" r="2.35"/><circle cx="299.3" cy="494.4" r="2.35"/><circle cx="300.8" cy="491.3" r="2.35"/><circle cx="303.5" cy="487.2" r="2.35"/><circle cx="305.0" cy="496.1" r="2.35"/><circle cx="294.1" cy="490.0" r="2.35"/><circle cx="300.2" cy="492.4" r="2.35"/><circle cx="300.6" cy="490.2" r="2.35"/><circle cx="296.9" cy="502.1" r="2.35"/><circle cx="297.1" cy="499.9" r="2.35"/><circle cx="303.5" cy="497.0" r="2.35"/><circle cx="299.2" cy="505.5" r="2.35"/><circle cx="299.1" cy="504.1" r="2.35"/><circle cx="294.2" cy="493.0" r="2.35"/><circle cx="301.5" cy="483.4" r="2.35"/><circle cx="304.3" cy="484.0" r="2.35"/><circle cx="301.0" cy="486.7" r="2.35"/><circle cx="305.0" cy="496.2" r="2.35"/><circle cx="303.5" cy="494.6" r="2.35"/><circle cx="301.9" cy="499.0" r="2.35"/><circle cx="297.2" cy="487.4" r="2.35"/><circle cx="304.0" cy="485.8" r="2.35"/><circle cx="305.0" cy="487.3" r="2.35"/><circle cx="294.8" cy="484.5" r="2.35"/><circle cx="303.3" cy="505.9" r="2.35"/><circle cx="298.7" cy="498.6" r="2.35"/><circle cx="296.7" cy="504.8" r="2.35"/><circle cx="302.1" cy="486.0" r="2.35"/><circle cx="294.2" cy="499.5" r="2.35"/><circle cx="294.0" cy="503.1" r="2.35"/><circle cx="297.2" cy="488.0" r="2.35"/><circle cx="300.8" cy="490.1" r="2.35"/><circle cx="300.5" cy="486.0" r="2.35"/><circle cx="304.9" cy="490.3" r="2.35"/><circle cx="304.0" cy="486.0" r="2.35"/><circle cx="303.5" cy="506.7" r="2.35"/><circle cx="298.4" cy="483.0" r="2.35"/><circle cx="298.2" cy="498.2" r="2.35"/><circle cx="296.3" cy="495.8" r="2.35"/><circle cx="294.7" cy="493.8" r="2.35"/><circle cx="302.6" cy="492.9" r="2.35"/><circle cx="302.0" cy="485.0" r="2.35"/><circle cx="303.9" cy="485.2" r="2.35"/><circle cx="305.0" cy="507.1" r="2.35"/><circle cx="305.2" cy="495.3" r="2.35"/><circle cx="297.1" cy="490.9" r="2.35"/><circle cx="302.9" cy="494.6" r="2.35"/><circle cx="305.1" cy="484.5" r="2.35"/><circle cx="299.6" cy="503.8" r="2.35"/><circle cx="301.0" cy="495.7" r="2.35"/><circle cx="294.6" cy="485.6" r="2.35"/><circle cx="296.9" cy="504.5" r="2.35"/><circle cx="304.1" cy="487.8" r="2.35"/><circle cx="305.1" cy="483.0" r="2.35"/><circle cx="301.0" cy="506.3" r="2.35"/><circle cx="297.8" cy="505.8" r="2.35"/><circle cx="301.7" cy="483.4" r="2.35"/><circle cx="297.7" cy="493.4" r="2.35"/><circle cx="296.6" cy="500.7" r="2.35"/><circle cx="295.7" cy="501.8" r="2.35"/><circle cx="297.2" cy="483.9" r="2.35"/><circle cx="300.5" cy="484.5" r="2.35"/><circle cx="300.4" cy="501.9" r="2.35"/><circle cx="300.9" cy="493.7" r="2.35"/><circle cx="293.9" cy="495.0" r="2.35"/><circle cx="294.7" cy="498.3" r="2.35"/><circle cx="295.1" cy="496.6" r="2.35"/><circle cx="297.9" cy="491.5" r="2.35"/><circle cx="301.8" cy="486.3" r="2.35"/><circle cx="295.6" cy="505.7" r="2.35"/><circle cx="297.6" cy="503.2" r="2.35"/><circle cx="304.4" cy="494.2" r="2.35"/><circle cx="295.4" cy="484.5" r="2.35"/><circle cx="304.5" cy="485.1" r="2.35"/><circle cx="299.7" cy="495.6" r="2.35"/><circle cx="295.0" cy="493.8" r="2.35"/><circle cx="295.6" cy="495.5" r="2.35"/><circle cx="299.8" cy="491.3" r="2.35"/><circle cx="296.0" cy="492.2" r="2.35"/><circle cx="296.0" cy="485.3" r="2.35"/><circle cx="296.5" cy="503.9" r="2.35"/><circle cx="299.8" cy="504.4" r="2.35"/><circle cx="293.7" cy="505.7" r="2.35"/><circle cx="299.6" cy="501.9" r="2.35"/><circle cx="300.6" cy="499.4" r="2.35"/><circle cx="296.4" cy="500.9" r="2.35"/><circle cx="295.4" cy="488.8" r="2.35"/><circle cx="293.9" cy="492.0" r="2.35"/><circle cx="300.0" cy="489.5" r="2.35"/><circle cx="304.6" cy="484.3" r="2.35"/><circle cx="300.7" cy="488.0" r="2.35"/><circle cx="300.9" cy="501.8" r="2.35"/><circle cx="302.4" cy="483.7" r="2.35"/><circle cx="296.6" cy="497.1" r="2.35"/><circle cx="305.8" cy="483.2" r="2.35"/><circle cx="301.2" cy="499.5" r="2.35"/><circle cx="303.7" cy="490.7" r="2.35"/><circle cx="303.6" cy="493.7" r="2.35"/><circle cx="305.0" cy="482.4" r="2.35"/><circle cx="305.3" cy="492.5" r="2.35"/><circle cx="298.6" cy="484.4" r="2.35"/><circle cx="296.6" cy="500.5" r="2.35"/><circle cx="302.0" cy="485.9" r="2.35"/><circle cx="297.8" cy="485.7" r="2.35"/><circle cx="296.0" cy="487.6" r="2.35"/><circle cx="297.6" cy="506.6" r="2.35"/><circle cx="306.0" cy="501.9" r="2.35"/><circle cx="299.5" cy="494.6" r="2.35"/><circle cx="303.2" cy="504.9" r="2.35"/><circle cx="302.9" cy="498.1" r="2.35"/><circle cx="296.0" cy="497.8" r="2.35"/><circle cx="304.1" cy="501.8" r="2.35"/><circle cx="294.7" cy="500.1" r="2.35"/><circle cx="297.9" cy="486.2" r="2.35"/><circle cx="305.6" cy="499.0" r="2.35"/><circle cx="302.8" cy="485.5" r="2.35"/><circle cx="303.9" cy="505.6" r="2.35"/><circle cx="304.8" cy="500.8" r="2.35"/><circle cx="303.9" cy="502.2" r="2.35"/><circle cx="300.9" cy="493.0" r="2.35"/><circle cx="303.8" cy="501.8" r="2.35"/><circle cx="304.4" cy="489.6" r="2.35"/><circle cx="305.5" cy="495.4" r="2.35"/><circle cx="305.3" cy="485.1" r="2.35"/><circle cx="305.6" cy="501.8" r="2.35"/><circle cx="296.7" cy="503.1" r="2.35"/><circle cx="296.4" cy="487.1" r="2.35"/><circle cx="299.2" cy="488.1" r="2.35"/><circle cx="299.7" cy="504.9" r="2.35"/><circle cx="302.1" cy="499.9" r="2.35"/><circle cx="298.4" cy="501.8" r="2.35"/><circle cx="303.4" cy="499.2" r="2.35"/><circle cx="305.3" cy="502.8" r="2.35"/></g><g fill="none" stroke="#a8a8a8" stroke-width="1.1"><circle cx="353.0" cy="11.6" r="2.35"/><circle cx="353.5" cy="11.2" r="2.35"/><circle cx="353.3" cy="12.7" r="2.35"/><circle cx="352.6" cy="13.4" r="2.35"/><circle cx="378.5" cy="21.2" r="2.35"/><circle cx="379.0" cy="12.6" r="2.35"/><circle cx="383.9" cy="31.0" r="2.35"/><circle cx="379.7" cy="15.9" r="2.35"/><circle cx="386.8" cy="34.0" r="2.35"/><circle cx="386.1" cy="20.3" r="2.35"/><circle cx="395.9" cy="11.5" r="2.35"/><circle cx="395.4" cy="17.6" r="2.35"/><circle cx="392.6" cy="13.3" r="2.35"/><circle cx="393.2" cy="30.7" r="2.35"/><circle cx="392.7" cy="24.9" r="2.35"/><circle cx="394.6" cy="19.7" r="2.35"/><circle cx="394.2" cy="11.9" r="2.35"/><circle cx="392.2" cy="15.5" r="2.35"/><circle cx="404.8" cy="21.0" r="2.35"/><circle cx="400.1" cy="25.0" r="2.35"/><circle cx="401.9" cy="17.8" r="2.35"/><circle cx="406.3" cy="27.8" r="2.35"/><circle cx="399.2" cy="24.7" r="2.35"/><circle cx="402.8" cy="32.2" r="2.35"/><circle cx="405.5" cy="17.5" r="2.35"/><circle cx="408.7" cy="13.3" r="2.35"/><circle cx="401.4" cy="29.3" r="2.35"/><circle cx="398.0" cy="22.6" r="2.35"/><circle cx="396.5" cy="27.1" r="2.35"/><circle cx="405.9" cy="24.7" r="2.35"/><circle cx="407.4" cy="18.2" r="2.35"/><circle cx="405.0" cy="25.2" r="2.35"/><circle cx="403.5" cy="21.8" r="2.35"/><circle cx="406.9" cy="34.0" r="2.35"/><circle cx="402.2" cy="26.9" r="2.35"/><circle cx="396.8" cy="27.9" r="2.35"/><circle cx="404.4" cy="35.2" r="2.35"/><circle cx="406.7" cy="17.5" r="2.35"/><circle cx="401.0" cy="27.1" r="2.35"/><circle cx="396.3" cy="21.9" r="2.35"/><circle cx="398.2" cy="13.3" r="2.35"/><circle cx="396.8" cy="29.6" r="2.35"/><circle cx="397.7" cy="16.5" r="2.35"/><circle cx="401.1" cy="32.1" r="2.35"/><circle cx="397.0" cy="21.6" r="2.35"/><circle cx="403.1" cy="32.4" r="2.35"/><circle cx="406.7" cy="31.9" r="2.35"/><circle cx="399.6" cy="20.7" r="2.35"/><circle cx="400.7" cy="32.5" r="2.35"/><circle cx="408.5" cy="14.1" r="2.35"/><circle cx="398.3" cy="16.1" r="2.35"/><circle cx="399.0" cy="22.5" r="2.35"/><circle cx="403.7" cy="16.9" r="2.35"/><circle cx="396.1" cy="20.8" r="2.35"/><circle cx="400.8" cy="24.5" r="2.35"/><circle cx="408.4" cy="27.6" r="2.35"/><circle cx="402.7" cy="25.8" r="2.35"/><circle cx="404.8" cy="11.7" r="2.35"/><circle cx="481.2" cy="29.8" r="2.35"/><circle cx="479.2" cy="30.3" r="2.35"/><circle cx="441.6" cy="20.3" r="2.35"/><circle cx="419.1" cy="26.2" r="2.35"/><circle cx="415.9" cy="12.0" r="2.35"/><circle cx="427.3" cy="14.4" r="2.35"/><circle cx="437.5" cy="11.7" r="2.35"/><circle cx="411.0" cy="14.1" r="2.35"/><circle cx="418.9" cy="19.4" r="2.35"/><circle cx="413.0" cy="32.2" r="2.35"/><circle cx="458.9" cy="14.1" r="2.35"/><circle cx="430.7" cy="19.0" r="2.35"/><circle cx="439.4" cy="13.4" r="2.35"/><circle cx="477.2" cy="35.2" r="2.35"/><circle cx="447.3" cy="22.4" r="2.35"/><circle cx="417.7" cy="12.9" r="2.35"/><circle cx="437.7" cy="17.0" r="2.35"/><circle cx="475.7" cy="14.4" r="2.35"/><circle cx="412.8" cy="34.1" r="2.35"/><circle cx="452.2" cy="14.0" r="2.35"/><circle cx="453.4" cy="11.0" r="2.35"/><circle cx="452.2" cy="34.8" r="2.35"/><circle cx="478.3" cy="27.8" r="2.35"/><circle cx="431.4" cy="19.5" r="2.35"/><circle cx="424.0" cy="29.6" r="2.35"/><circle cx="452.5" cy="29.8" r="2.35"/><circle cx="436.7" cy="15.9" r="2.35"/><circle cx="474.3" cy="35.0" r="2.35"/><circle cx="477.5" cy="30.5" r="2.35"/><circle cx="474.8" cy="28.8" r="2.35"/><circle cx="428.7" cy="23.3" r="2.35"/><circle cx="438.7" cy="11.1" r="2.35"/><circle cx="413.2" cy="17.3" r="2.35"/><circle cx="431.2" cy="27.7" r="2.35"/><circle cx="485.6" cy="21.5" r="2.35"/><circle cx="484.1" cy="35.0" r="2.35"/><circle cx="485.5" cy="19.5" r="2.35"/><circle cx="428.2" cy="16.0" r="2.35"/><circle cx="426.3" cy="15.5" r="2.35"/><circle cx="459.7" cy="32.9" r="2.35"/><circle cx="476.6" cy="22.3" r="2.35"/><circle cx="461.9" cy="30.3" r="2.35"/><circle cx="417.6" cy="26.9" r="2.35"/><circle cx="482.0" cy="29.9" r="2.35"/><circle cx="469.5" cy="22.3" r="2.35"/><circle cx="424.9" cy="30.1" r="2.35"/><circle cx="436.9" cy="30.4" r="2.35"/><circle cx="486.8" cy="20.2" r="2.35"/><circle cx="442.3" cy="34.0" r="2.35"/><circle cx="467.5" cy="14.6" r="2.35"/><circle cx="420.9" cy="14.1" r="2.35"/><circle cx="481.6" cy="30.5" r="2.35"/><circle cx="422.4" cy="31.0" r="2.35"/><circle cx="487.5" cy="26.8" r="2.35"/><circle cx="438.3" cy="24.1" r="2.35"/><circle cx="490.9" cy="10.7" r="2.35"/><circle cx="496.8" cy="26.6" r="2.35"/><circle cx="493.7" cy="33.7" r="2.35"/><circle cx="493.0" cy="32.1" r="2.35"/><circle cx="495.8" cy="15.6" r="2.35"/><circle cx="491.8" cy="17.7" r="2.35"/><circle cx="491.7" cy="25.0" r="2.35"/><circle cx="491.8" cy="20.8" r="2.35"/><circle cx="490.9" cy="33.1" r="2.35"/><circle cx="492.5" cy="21.8" r="2.35"/><circle cx="494.1" cy="33.0" r="2.35"/><circle cx="492.9" cy="33.3" r="2.35"/><circle cx="493.5" cy="23.6" r="2.35"/><circle cx="493.7" cy="10.8" r="2.35"/><circle cx="504.0" cy="12.7" r="2.35"/><circle cx="497.1" cy="18.8" r="2.35"/><circle cx="499.8" cy="15.6" r="2.35"/><circle cx="508.6" cy="16.4" r="2.35"/><circle cx="502.2" cy="16.0" r="2.35"/><circle cx="505.9" cy="18.7" r="2.35"/><circle cx="498.7" cy="16.4" r="2.35"/><circle cx="501.0" cy="13.6" r="2.35"/><circle cx="509.4" cy="15.9" r="2.35"/><circle cx="506.0" cy="18.4" r="2.35"/><circle cx="511.6" cy="15.3" r="2.35"/><circle cx="506.8" cy="15.9" r="2.35"/><circle cx="505.2" cy="17.8" r="2.35"/><circle cx="504.2" cy="16.2" r="2.35"/><circle cx="504.6" cy="20.3" r="2.35"/><circle cx="508.2" cy="19.6" r="2.35"/><circle cx="512.1" cy="13.4" r="2.35"/><circle cx="506.0" cy="20.3" r="2.35"/><circle cx="510.4" cy="26.2" r="2.35"/><circle cx="498.9" cy="29.3" r="2.35"/><circle cx="498.2" cy="27.3" r="2.35"/><circle cx="498.2" cy="31.5" r="2.35"/><circle cx="509.5" cy="33.8" r="2.35"/><circle cx="499.5" cy="32.0" r="2.35"/><circle cx="507.6" cy="26.3" r="2.35"/><circle cx="511.1" cy="34.5" r="2.35"/><circle cx="514.5" cy="34.2" r="2.35"/><circle cx="515.8" cy="22.5" r="2.35"/><circle cx="519.9" cy="31.2" r="2.35"/><circle cx="514.1" cy="21.1" r="2.35"/><circle cx="516.6" cy="18.8" r="2.35"/><circle cx="359.0" cy="13.1" r="2.35"/><circle cx="361.9" cy="14.3" r="2.35"/><circle cx="357.8" cy="26.0" r="2.35"/><circle cx="364.3" cy="20.7" r="2.35"/><circle cx="364.3" cy="26.0" r="2.35"/><circle cx="380.0" cy="16.6" r="2.35"/><circle cx="383.5" cy="26.5" r="2.35"/><circle cx="385.3" cy="28.9" r="2.35"/><circle cx="385.9" cy="33.5" r="2.35"/><circle cx="380.0" cy="33.0" r="2.35"/><circle cx="387.0" cy="11.3" r="2.35"/><circle cx="516.0" cy="13.1" r="2.35"/><circle cx="520.4" cy="27.2" r="2.35"/><circle cx="522.2" cy="13.1" r="2.35"/><circle cx="526.6" cy="14.9" r="2.35"/><circle cx="530.0" cy="17.5" r="2.35"/><circle cx="532.7" cy="19.3" r="2.35"/><circle cx="531.8" cy="21.9" r="2.35"/><circle cx="538.0" cy="25.4" r="2.35"/><circle cx="539.7" cy="28.0" r="2.35"/><circle cx="542.3" cy="24.5" r="2.35"/><circle cx="547.6" cy="23.7" r="2.35"/><circle cx="552.9" cy="20.1" r="2.35"/><circle cx="562.5" cy="13.1" r="2.35"/><circle cx="327.0" cy="61.2" r="2.35"/><circle cx="329.6" cy="53.7" r="2.35"/><circle cx="328.8" cy="64.2" r="2.35"/><circle cx="326.1" cy="61.5" r="2.35"/><circle cx="329.1" cy="66.0" r="2.35"/><circle cx="326.3" cy="77.9" r="2.35"/><circle cx="329.9" cy="77.5" r="2.35"/><circle cx="352.4" cy="59.9" r="2.35"/><circle cx="352.2" cy="72.7" r="2.35"/><circle cx="353.1" cy="56.5" r="2.35"/><circle cx="353.7" cy="76.0" r="2.35"/><circle cx="355.3" cy="59.7" r="2.35"/><circle cx="352.6" cy="76.2" r="2.35"/><circle cx="354.3" cy="70.7" r="2.35"/><circle cx="352.4" cy="54.7" r="2.35"/><circle cx="367.0" cy="63.9" r="2.35"/><circle cx="357.2" cy="76.7" r="2.35"/><circle cx="366.2" cy="73.3" r="2.35"/><circle cx="357.3" cy="74.6" r="2.35"/><circle cx="357.1" cy="74.8" r="2.35"/><circle cx="363.3" cy="61.7" r="2.35"/><circle cx="364.8" cy="76.4" r="2.35"/><circle cx="360.3" cy="56.5" r="2.35"/><circle cx="364.4" cy="59.2" r="2.35"/><circle cx="357.8" cy="57.3" r="2.35"/><circle cx="356.8" cy="58.3" r="2.35"/><circle cx="361.0" cy="60.9" r="2.35"/><circle cx="368.2" cy="60.5" r="2.35"/><circle cx="364.0" cy="57.7" r="2.35"/><circle cx="361.6" cy="53.7" r="2.35"/><circle cx="360.0" cy="53.6" r="2.35"/><circle cx="367.7" cy="67.0" r="2.35"/><circle cx="359.0" cy="65.1" r="2.35"/><circle cx="371.0" cy="55.9" r="2.35"/><circle cx="369.1" cy="64.0" r="2.35"/><circle cx="363.9" cy="74.1" r="2.35"/><circle cx="362.3" cy="65.9" r="2.35"/><circle cx="367.0" cy="77.8" r="2.35"/><circle cx="361.5" cy="74.0" r="2.35"/><circle cx="367.3" cy="69.1" r="2.35"/><circle cx="362.5" cy="61.9" r="2.35"/><circle cx="356.9" cy="56.5" r="2.35"/><circle cx="357.1" cy="71.8" r="2.35"/><circle cx="360.1" cy="57.3" r="2.35"/><circle cx="357.4" cy="74.3" r="2.35"/><circle cx="369.9" cy="70.0" r="2.35"/><circle cx="360.5" cy="59.3" r="2.35"/><circle cx="360.7" cy="64.7" r="2.35"/><circle cx="358.5" cy="64.4" r="2.35"/><circle cx="360.2" cy="77.3" r="2.35"/><circle cx="371.6" cy="66.9" r="2.35"/><circle cx="359.9" cy="77.4" r="2.35"/><circle cx="361.0" cy="62.2" r="2.35"/><circle cx="356.0" cy="62.8" r="2.35"/><circle cx="363.6" cy="65.8" r="2.35"/><circle cx="359.2" cy="65.9" r="2.35"/><circle cx="356.1" cy="59.8" r="2.35"/><circle cx="380.4" cy="63.2" r="2.35"/><circle cx="376.5" cy="53.8" r="2.35"/><circle cx="398.3" cy="59.1" r="2.35"/><circle cx="421.6" cy="66.5" r="2.35"/><circle cx="435.3" cy="69.7" r="2.35"/><circle cx="432.4" cy="75.2" r="2.35"/><circle cx="405.3" cy="61.4" r="2.35"/><circle cx="454.7" cy="57.0" r="2.35"/><circle cx="433.1" cy="69.3" r="2.35"/><circle cx="376.6" cy="74.1" r="2.35"/><circle cx="447.0" cy="68.9" r="2.35"/><circle cx="433.9" cy="73.5" r="2.35"/><circle cx="384.6" cy="66.3" r="2.35"/><circle cx="414.9" cy="74.1" r="2.35"/><circle cx="439.8" cy="73.9" r="2.35"/><circle cx="421.5" cy="75.6" r="2.35"/><circle cx="429.7" cy="70.6" r="2.35"/><circle cx="392.1" cy="54.0" r="2.35"/><circle cx="384.0" cy="62.3" r="2.35"/><circle cx="381.7" cy="74.1" r="2.35"/><circle cx="419.4" cy="68.9" r="2.35"/><circle cx="425.0" cy="70.3" r="2.35"/><circle cx="413.6" cy="53.3" r="2.35"/><circle cx="439.2" cy="71.9" r="2.35"/><circle cx="414.7" cy="66.6" r="2.35"/><circle cx="427.7" cy="54.9" r="2.35"/><circle cx="434.2" cy="59.5" r="2.35"/><circle cx="379.2" cy="59.9" r="2.35"/><circle cx="433.5" cy="58.4" r="2.35"/><circle cx="434.4" cy="77.6" r="2.35"/><circle cx="414.0" cy="62.8" r="2.35"/><circle cx="412.8" cy="70.3" r="2.35"/><circle cx="436.7" cy="68.7" r="2.35"/><circle cx="426.3" cy="55.2" r="2.35"/><circle cx="385.2" cy="59.6" r="2.35"/><circle cx="434.7" cy="60.8" r="2.35"/><circle cx="420.1" cy="53.5" r="2.35"/><circle cx="378.0" cy="60.0" r="2.35"/><circle cx="428.8" cy="70.5" r="2.35"/><circle cx="429.1" cy="60.5" r="2.35"/><circle cx="415.9" cy="64.9" r="2.35"/><circle cx="411.7" cy="56.2" r="2.35"/><circle cx="447.2" cy="58.2" r="2.35"/><circle cx="454.2" cy="76.6" r="2.35"/><circle cx="374.5" cy="64.7" r="2.35"/><circle cx="441.1" cy="77.4" r="2.35"/><circle cx="410.3" cy="60.0" r="2.35"/><circle cx="390.4" cy="76.9" r="2.35"/><circle cx="390.5" cy="67.8" r="2.35"/><circle cx="384.8" cy="66.3" r="2.35"/><circle cx="452.1" cy="56.6" r="2.35"/><circle cx="441.1" cy="66.0" r="2.35"/><circle cx="446.6" cy="70.8" r="2.35"/><circle cx="392.2" cy="75.7" r="2.35"/><circle cx="413.3" cy="53.9" r="2.35"/><circle cx="457.0" cy="65.5" r="2.35"/><circle cx="462.0" cy="60.8" r="2.35"/><circle cx="458.5" cy="61.8" r="2.35"/><circle cx="460.5" cy="74.2" r="2.35"/><circle cx="457.0" cy="72.0" r="2.35"/><circle cx="466.2" cy="56.2" r="2.35"/><circle cx="467.2" cy="71.1" r="2.35"/><circle cx="466.9" cy="60.5" r="2.35"/><circle cx="461.1" cy="63.1" r="2.35"/><circle cx="468.0" cy="68.0" r="2.35"/><circle cx="461.0" cy="63.9" r="2.35"/><circle cx="460.0" cy="54.4" r="2.35"/><circle cx="458.1" cy="74.1" r="2.35"/><circle cx="460.1" cy="76.6" r="2.35"/><circle cx="459.7" cy="59.9" r="2.35"/><circle cx="462.6" cy="58.0" r="2.35"/><circle cx="461.1" cy="77.1" r="2.35"/><circle cx="466.7" cy="73.5" r="2.35"/><circle cx="463.9" cy="76.1" r="2.35"/><circle cx="467.3" cy="67.0" r="2.35"/><circle cx="464.9" cy="54.5" r="2.35"/><circle cx="465.1" cy="64.5" r="2.35"/><circle cx="471.8" cy="69.3" r="2.35"/><circle cx="469.4" cy="54.5" r="2.35"/><circle cx="472.6" cy="56.4" r="2.35"/><circle cx="470.4" cy="61.8" r="2.35"/><circle cx="468.9" cy="55.8" r="2.35"/><circle cx="473.3" cy="60.2" r="2.35"/><circle cx="466.8" cy="76.0" r="2.35"/><circle cx="466.8" cy="65.9" r="2.35"/><circle cx="484.3" cy="54.5" r="2.35"/><circle cx="484.3" cy="59.3" r="2.35"/><circle cx="487.8" cy="66.8" r="2.35"/><circle cx="488.6" cy="72.0" r="2.35"/><circle cx="492.2" cy="72.0" r="2.35"/><circle cx="490.4" cy="77.7" r="2.35"/><circle cx="495.7" cy="55.0" r="2.35"/><circle cx="493.5" cy="59.3" r="2.35"/><circle cx="493.9" cy="63.7" r="2.35"/><circle cx="497.4" cy="67.6" r="2.35"/><circle cx="498.3" cy="74.2" r="2.35"/><circle cx="500.0" cy="74.7" r="2.35"/><circle cx="501.8" cy="59.3" r="2.35"/><circle cx="503.1" cy="60.2" r="2.35"/><circle cx="504.9" cy="54.5" r="2.35"/><circle cx="502.7" cy="72.0" r="2.35"/><circle cx="502.2" cy="66.8" r="2.35"/><circle cx="505.7" cy="75.1" r="2.35"/><circle cx="509.2" cy="66.8" r="2.35"/><circle cx="510.1" cy="59.3" r="2.35"/><circle cx="512.7" cy="59.3" r="2.35"/><circle cx="510.1" cy="78.2" r="2.35"/><circle cx="513.2" cy="72.0" r="2.35"/><circle cx="514.5" cy="77.7" r="2.35"/><circle cx="519.3" cy="70.7" r="2.35"/><circle cx="519.3" cy="77.3" r="2.35"/><circle cx="523.2" cy="55.4" r="2.35"/><circle cx="529.7" cy="54.2" r="2.35"/><circle cx="533.8" cy="55.7" r="2.35"/><circle cx="536.1" cy="53.0" r="2.35"/><circle cx="529.3" cy="60.9" r="2.35"/><circle cx="535.0" cy="65.1" r="2.35"/><circle cx="543.2" cy="64.3" r="2.35"/><circle cx="548.1" cy="57.9" r="2.35"/><circle cx="533.1" cy="73.0" r="2.35"/><circle cx="535.0" cy="72.2" r="2.35"/><circle cx="536.8" cy="71.1" r="2.35"/><circle cx="558.3" cy="71.5" r="2.35"/><circle cx="347.8" cy="114.6" r="2.35"/><circle cx="351.9" cy="102.6" r="2.35"/><circle cx="349.9" cy="103.7" r="2.35"/><circle cx="349.3" cy="106.0" r="2.35"/><circle cx="347.0" cy="100.2" r="2.35"/><circle cx="347.2" cy="118.8" r="2.35"/><circle cx="349.0" cy="101.6" r="2.35"/><circle cx="351.4" cy="121.0" r="2.35"/><circle cx="357.4" cy="99.6" r="2.35"/><circle cx="354.3" cy="98.4" r="2.35"/><circle cx="356.1" cy="98.4" r="2.35"/><circle cx="354.9" cy="102.6" r="2.35"/><circle cx="358.8" cy="118.3" r="2.35"/><circle cx="361.0" cy="106.4" r="2.35"/><circle cx="357.0" cy="109.2" r="2.35"/><circle cx="356.5" cy="104.6" r="2.35"/><circle cx="352.7" cy="103.1" r="2.35"/><circle cx="363.6" cy="99.3" r="2.35"/><circle cx="358.0" cy="111.9" r="2.35"/><circle cx="362.4" cy="101.5" r="2.35"/><circle cx="355.3" cy="102.3" r="2.35"/><circle cx="356.8" cy="107.3" r="2.35"/><circle cx="363.4" cy="117.3" r="2.35"/><circle cx="362.5" cy="96.7" r="2.35"/><circle cx="352.4" cy="113.9" r="2.35"/><circle cx="362.7" cy="108.0" r="2.35"/><circle cx="359.0" cy="96.1" r="2.35"/><circle cx="356.7" cy="119.3" r="2.35"/><circle cx="361.9" cy="117.5" r="2.35"/><circle cx="363.7" cy="102.3" r="2.35"/><circle cx="353.3" cy="100.0" r="2.35"/><circle cx="358.3" cy="113.2" r="2.35"/><circle cx="363.3" cy="114.2" r="2.35"/><circle cx="359.8" cy="115.2" r="2.35"/><circle cx="357.5" cy="109.9" r="2.35"/><circle cx="352.5" cy="115.7" r="2.35"/><circle cx="354.8" cy="119.1" r="2.35"/><circle cx="359.7" cy="103.7" r="2.35"/><circle cx="353.5" cy="102.4" r="2.35"/><circle cx="359.6" cy="113.6" r="2.35"/><circle cx="353.3" cy="97.9" r="2.35"/><circle cx="358.3" cy="110.7" r="2.35"/><circle cx="356.7" cy="101.7" r="2.35"/><circle cx="359.2" cy="96.4" r="2.35"/><circle cx="355.6" cy="107.6" r="2.35"/><circle cx="363.5" cy="112.2" r="2.35"/><circle cx="362.6" cy="108.0" r="2.35"/><circle cx="354.8" cy="102.3" r="2.35"/><circle cx="409.2" cy="113.7" r="2.35"/><circle cx="379.8" cy="96.7" r="2.35"/><circle cx="388.4" cy="113.0" r="2.35"/><circle cx="384.9" cy="102.6" r="2.35"/><circle cx="396.0" cy="119.3" r="2.35"/><circle cx="376.2" cy="97.0" r="2.35"/><circle cx="381.2" cy="106.6" r="2.35"/><circle cx="396.7" cy="101.1" r="2.35"/><circle cx="401.9" cy="114.6" r="2.35"/><circle cx="388.7" cy="101.3" r="2.35"/><circle cx="409.6" cy="103.9" r="2.35"/><circle cx="402.9" cy="101.9" r="2.35"/><circle cx="376.0" cy="115.1" r="2.35"/><circle cx="379.3" cy="119.9" r="2.35"/><circle cx="388.3" cy="100.8" r="2.35"/><circle cx="376.0" cy="106.6" r="2.35"/><circle cx="395.9" cy="119.8" r="2.35"/><circle cx="372.6" cy="106.0" r="2.35"/><circle cx="375.6" cy="120.5" r="2.35"/><circle cx="372.4" cy="97.4" r="2.35"/><circle cx="368.7" cy="106.0" r="2.35"/><circle cx="406.4" cy="118.2" r="2.35"/><circle cx="399.0" cy="121.1" r="2.35"/><circle cx="407.9" cy="104.4" r="2.35"/><circle cx="374.3" cy="119.5" r="2.35"/><circle cx="399.6" cy="96.9" r="2.35"/><circle cx="395.9" cy="105.6" r="2.35"/><circle cx="382.8" cy="104.4" r="2.35"/><circle cx="373.6" cy="96.2" r="2.35"/><circle cx="378.6" cy="104.9" r="2.35"/><circle cx="409.0" cy="99.2" r="2.35"/><circle cx="409.4" cy="101.3" r="2.35"/><circle cx="382.0" cy="116.7" r="2.35"/><circle cx="403.0" cy="106.9" r="2.35"/><circle cx="368.2" cy="108.0" r="2.35"/><circle cx="382.8" cy="119.1" r="2.35"/><circle cx="374.7" cy="105.2" r="2.35"/><circle cx="406.4" cy="96.9" r="2.35"/><circle cx="384.5" cy="116.4" r="2.35"/><circle cx="400.5" cy="97.1" r="2.35"/><circle cx="367.6" cy="97.7" r="2.35"/><circle cx="407.4" cy="102.6" r="2.35"/><circle cx="399.6" cy="118.6" r="2.35"/><circle cx="381.3" cy="102.9" r="2.35"/><circle cx="409.1" cy="111.6" r="2.35"/><circle cx="415.9" cy="114.0" r="2.35"/><circle cx="416.5" cy="103.0" r="2.35"/><circle cx="413.0" cy="115.0" r="2.35"/><circle cx="423.1" cy="112.0" r="2.35"/><circle cx="423.4" cy="96.7" r="2.35"/><circle cx="415.6" cy="108.0" r="2.35"/><circle cx="423.5" cy="120.0" r="2.35"/><circle cx="417.3" cy="102.4" r="2.35"/><circle cx="417.7" cy="108.5" r="2.35"/><circle cx="423.2" cy="100.7" r="2.35"/><circle cx="421.8" cy="114.6" r="2.35"/><circle cx="422.1" cy="115.4" r="2.35"/><circle cx="419.7" cy="104.3" r="2.35"/><circle cx="416.5" cy="105.2" r="2.35"/><circle cx="421.6" cy="98.1" r="2.35"/><circle cx="415.2" cy="115.0" r="2.35"/><circle cx="415.7" cy="97.7" r="2.35"/><circle cx="413.4" cy="109.9" r="2.35"/><circle cx="416.6" cy="120.6" r="2.35"/><circle cx="422.7" cy="120.8" r="2.35"/><circle cx="415.9" cy="98.2" r="2.35"/><circle cx="414.1" cy="108.6" r="2.35"/><circle cx="420.8" cy="107.3" r="2.35"/><circle cx="415.6" cy="106.6" r="2.35"/><circle cx="419.8" cy="113.0" r="2.35"/><circle cx="421.2" cy="117.3" r="2.35"/><circle cx="426.7" cy="99.2" r="2.35"/><circle cx="427.4" cy="103.5" r="2.35"/><circle cx="426.3" cy="105.5" r="2.35"/><circle cx="427.0" cy="101.1" r="2.35"/><circle cx="425.0" cy="102.3" r="2.35"/><circle cx="424.6" cy="118.2" r="2.35"/><circle cx="314.5" cy="96.0" r="2.35"/><circle cx="315.8" cy="99.0" r="2.35"/><circle cx="313.8" cy="102.0" r="2.35"/><circle cx="311.2" cy="112.3" r="2.35"/><circle cx="316.4" cy="111.6" r="2.35"/><circle cx="313.0" cy="105.0" r="2.35"/><circle cx="430.5" cy="96.2" r="2.35"/><circle cx="434.9" cy="97.5" r="2.35"/><circle cx="434.9" cy="100.6" r="2.35"/><circle cx="426.1" cy="100.1" r="2.35"/><circle cx="427.9" cy="103.2" r="2.35"/><circle cx="431.4" cy="106.7" r="2.35"/><circle cx="436.2" cy="106.3" r="2.35"/><circle cx="433.1" cy="109.8" r="2.35"/><circle cx="431.4" cy="112.8" r="2.35"/><circle cx="422.2" cy="111.5" r="2.35"/><circle cx="422.6" cy="121.2" r="2.35"/><circle cx="420.9" cy="117.7" r="2.35"/><circle cx="448.5" cy="107.6" r="2.35"/><circle cx="453.3" cy="103.2" r="2.35"/><circle cx="454.2" cy="106.3" r="2.35"/><circle cx="456.8" cy="97.5" r="2.35"/><circle cx="460.3" cy="98.0" r="2.35"/><circle cx="462.9" cy="102.3" r="2.35"/><circle cx="467.7" cy="102.8" r="2.35"/><circle cx="468.6" cy="105.8" r="2.35"/><circle cx="466.4" cy="114.2" r="2.35"/><circle cx="458.5" cy="114.2" r="2.35"/><circle cx="444.5" cy="118.5" r="2.35"/><circle cx="449.8" cy="117.7" r="2.35"/><circle cx="452.4" cy="117.2" r="2.35"/><circle cx="448.9" cy="121.2" r="2.35"/><circle cx="453.3" cy="120.3" r="2.35"/><circle cx="458.1" cy="119.8" r="2.35"/><circle cx="462.9" cy="120.3" r="2.35"/><circle cx="451.5" cy="119.4" r="2.35"/><circle cx="333.3" cy="147.2" r="2.35"/><circle cx="332.6" cy="163.8" r="2.35"/><circle cx="333.0" cy="144.8" r="2.35"/><circle cx="334.2" cy="155.4" r="2.35"/><circle cx="335.0" cy="141.6" r="2.35"/><circle cx="332.9" cy="159.5" r="2.35"/><circle cx="334.4" cy="161.9" r="2.35"/><circle cx="331.2" cy="146.4" r="2.35"/><circle cx="336.4" cy="143.8" r="2.35"/><circle cx="346.7" cy="153.6" r="2.35"/><circle cx="346.2" cy="148.3" r="2.35"/><circle cx="345.4" cy="150.2" r="2.35"/><circle cx="338.1" cy="158.5" r="2.35"/><circle cx="346.3" cy="141.7" r="2.35"/><circle cx="342.2" cy="154.5" r="2.35"/><circle cx="337.6" cy="148.2" r="2.35"/><circle cx="336.7" cy="144.1" r="2.35"/><circle cx="338.1" cy="154.0" r="2.35"/><circle cx="342.8" cy="144.1" r="2.35"/><circle cx="335.1" cy="147.2" r="2.35"/><circle cx="343.1" cy="143.6" r="2.35"/><circle cx="338.7" cy="144.1" r="2.35"/><circle cx="344.5" cy="152.7" r="2.35"/><circle cx="335.8" cy="141.6" r="2.35"/><circle cx="339.7" cy="152.8" r="2.35"/><circle cx="342.7" cy="141.3" r="2.35"/><circle cx="337.0" cy="156.4" r="2.35"/><circle cx="339.9" cy="146.1" r="2.35"/><circle cx="338.7" cy="162.9" r="2.35"/><circle cx="338.7" cy="153.2" r="2.35"/><circle cx="339.3" cy="149.4" r="2.35"/><circle cx="345.4" cy="163.9" r="2.35"/><circle cx="339.4" cy="144.0" r="2.35"/><circle cx="343.7" cy="144.1" r="2.35"/><circle cx="335.1" cy="161.6" r="2.35"/><circle cx="340.1" cy="159.5" r="2.35"/><circle cx="339.9" cy="161.1" r="2.35"/><circle cx="340.5" cy="143.1" r="2.35"/><circle cx="335.2" cy="152.8" r="2.35"/><circle cx="342.7" cy="161.8" r="2.35"/><circle cx="336.1" cy="154.6" r="2.35"/><circle cx="339.5" cy="151.6" r="2.35"/><circle cx="336.8" cy="146.1" r="2.35"/><circle cx="372.0" cy="162.2" r="2.35"/><circle cx="352.2" cy="151.3" r="2.35"/><circle cx="385.6" cy="163.2" r="2.35"/><circle cx="356.5" cy="142.2" r="2.35"/><circle cx="392.3" cy="163.4" r="2.35"/><circle cx="370.2" cy="140.4" r="2.35"/><circle cx="391.5" cy="148.7" r="2.35"/><circle cx="390.4" cy="154.5" r="2.35"/><circle cx="386.6" cy="143.0" r="2.35"/><circle cx="384.7" cy="144.6" r="2.35"/><circle cx="366.4" cy="160.2" r="2.35"/><circle cx="386.8" cy="143.6" r="2.35"/><circle cx="357.5" cy="149.0" r="2.35"/><circle cx="371.9" cy="148.6" r="2.35"/><circle cx="352.9" cy="145.2" r="2.35"/><circle cx="381.8" cy="161.5" r="2.35"/><circle cx="349.0" cy="153.1" r="2.35"/><circle cx="383.4" cy="140.0" r="2.35"/><circle cx="387.2" cy="142.0" r="2.35"/><circle cx="375.8" cy="152.8" r="2.35"/><circle cx="377.1" cy="146.7" r="2.35"/><circle cx="367.2" cy="153.6" r="2.35"/><circle cx="367.4" cy="155.5" r="2.35"/><circle cx="368.4" cy="150.0" r="2.35"/><circle cx="348.1" cy="154.5" r="2.35"/><circle cx="370.5" cy="144.9" r="2.35"/><circle cx="383.7" cy="158.5" r="2.35"/><circle cx="369.0" cy="143.5" r="2.35"/><circle cx="369.7" cy="141.7" r="2.35"/><circle cx="353.2" cy="149.8" r="2.35"/><circle cx="351.4" cy="150.1" r="2.35"/><circle cx="371.5" cy="140.0" r="2.35"/><circle cx="377.5" cy="141.1" r="2.35"/><circle cx="382.2" cy="158.5" r="2.35"/><circle cx="371.6" cy="140.4" r="2.35"/><circle cx="371.2" cy="148.5" r="2.35"/><circle cx="392.6" cy="142.4" r="2.35"/><circle cx="388.1" cy="163.9" r="2.35"/><circle cx="382.1" cy="159.4" r="2.35"/><circle cx="356.3" cy="163.6" r="2.35"/><circle cx="370.6" cy="162.9" r="2.35"/><circle cx="391.0" cy="143.1" r="2.35"/><circle cx="384.8" cy="162.3" r="2.35"/><circle cx="350.1" cy="147.8" r="2.35"/><circle cx="383.3" cy="143.0" r="2.35"/><circle cx="399.6" cy="145.9" r="2.35"/><circle cx="399.3" cy="142.6" r="2.35"/><circle cx="398.0" cy="162.0" r="2.35"/><circle cx="396.8" cy="145.6" r="2.35"/><circle cx="398.0" cy="147.0" r="2.35"/><circle cx="396.1" cy="143.6" r="2.35"/><circle cx="396.6" cy="162.4" r="2.35"/><circle cx="398.7" cy="161.4" r="2.35"/><circle cx="396.7" cy="158.6" r="2.35"/><circle cx="396.5" cy="152.3" r="2.35"/><circle cx="398.5" cy="148.0" r="2.35"/><circle cx="399.5" cy="152.9" r="2.35"/><circle cx="398.3" cy="161.1" r="2.35"/><circle cx="396.4" cy="163.8" r="2.35"/><circle cx="308.5" cy="144.8" r="2.35"/><circle cx="315.8" cy="139.5" r="2.35"/><circle cx="315.8" cy="142.1" r="2.35"/><circle cx="315.8" cy="144.8" r="2.35"/><circle cx="316.4" cy="148.1" r="2.35"/><circle cx="316.4" cy="155.3" r="2.35"/><circle cx="319.0" cy="156.6" r="2.35"/><circle cx="314.5" cy="158.6" r="2.35"/><circle cx="315.8" cy="161.8" r="2.35"/><circle cx="402.0" cy="139.2" r="2.35"/><circle cx="401.5" cy="143.3" r="2.35"/><circle cx="401.0" cy="146.3" r="2.35"/><circle cx="400.5" cy="154.5" r="2.35"/><circle cx="401.0" cy="159.6" r="2.35"/><circle cx="404.1" cy="163.2" r="2.35"/><circle cx="402.0" cy="162.7" r="2.35"/><circle cx="406.6" cy="153.5" r="2.35"/><circle cx="411.2" cy="141.8" r="2.35"/><circle cx="414.8" cy="139.7" r="2.35"/><circle cx="410.2" cy="145.3" r="2.35"/><circle cx="412.8" cy="145.8" r="2.35"/><circle cx="415.8" cy="145.3" r="2.35"/><circle cx="411.2" cy="151.5" r="2.35"/><circle cx="410.7" cy="163.2" r="2.35"/><circle cx="412.8" cy="163.2" r="2.35"/><circle cx="418.9" cy="162.7" r="2.35"/><circle cx="426.1" cy="153.0" r="2.35"/><circle cx="430.1" cy="140.2" r="2.35"/><circle cx="433.2" cy="147.4" r="2.35"/><circle cx="435.3" cy="149.4" r="2.35"/><circle cx="436.8" cy="145.3" r="2.35"/><circle cx="438.8" cy="143.3" r="2.35"/><circle cx="435.3" cy="152.5" r="2.35"/><circle cx="437.8" cy="154.0" r="2.35"/><circle cx="440.4" cy="153.5" r="2.35"/><circle cx="443.4" cy="154.0" r="2.35"/><circle cx="443.9" cy="147.4" r="2.35"/><circle cx="447.5" cy="149.9" r="2.35"/><circle cx="448.0" cy="144.3" r="2.35"/><circle cx="449.0" cy="139.2" r="2.35"/><circle cx="452.1" cy="140.2" r="2.35"/><circle cx="453.1" cy="152.0" r="2.35"/><circle cx="454.7" cy="150.4" r="2.35"/><circle cx="453.6" cy="157.6" r="2.35"/><circle cx="456.2" cy="157.1" r="2.35"/><circle cx="446.5" cy="160.7" r="2.35"/><circle cx="447.0" cy="162.7" r="2.35"/><circle cx="433.2" cy="161.2" r="2.35"/><circle cx="439.3" cy="164.2" r="2.35"/><circle cx="457.7" cy="139.2" r="2.35"/><circle cx="459.8" cy="141.2" r="2.35"/><circle cx="464.4" cy="146.3" r="2.35"/><circle cx="465.4" cy="153.0" r="2.35"/><circle cx="463.4" cy="161.2" r="2.35"/><circle cx="325.5" cy="186.1" r="2.35"/><circle cx="325.7" cy="198.9" r="2.35"/><circle cx="326.4" cy="200.6" r="2.35"/><circle cx="326.4" cy="190.2" r="2.35"/><circle cx="326.1" cy="193.3" r="2.35"/><circle cx="326.6" cy="194.8" r="2.35"/><circle cx="343.0" cy="198.0" r="2.35"/><circle cx="366.8" cy="187.3" r="2.35"/><circle cx="363.9" cy="182.3" r="2.35"/><circle cx="342.9" cy="187.8" r="2.35"/><circle cx="359.3" cy="205.5" r="2.35"/><circle cx="359.4" cy="190.1" r="2.35"/><circle cx="363.9" cy="190.1" r="2.35"/><circle cx="342.1" cy="204.6" r="2.35"/><circle cx="355.4" cy="199.2" r="2.35"/><circle cx="356.6" cy="206.4" r="2.35"/><circle cx="350.0" cy="202.9" r="2.35"/><circle cx="357.7" cy="203.4" r="2.35"/><circle cx="348.9" cy="200.0" r="2.35"/><circle cx="353.4" cy="189.6" r="2.35"/><circle cx="341.2" cy="197.5" r="2.35"/><circle cx="336.6" cy="204.7" r="2.35"/><circle cx="338.9" cy="182.6" r="2.35"/><circle cx="337.6" cy="205.1" r="2.35"/><circle cx="345.7" cy="185.5" r="2.35"/><circle cx="335.0" cy="183.0" r="2.35"/><circle cx="357.5" cy="197.8" r="2.35"/><circle cx="357.7" cy="200.3" r="2.35"/><circle cx="336.2" cy="196.7" r="2.35"/><circle cx="346.4" cy="202.4" r="2.35"/><circle cx="361.9" cy="204.2" r="2.35"/><circle cx="336.2" cy="203.6" r="2.35"/><circle cx="365.1" cy="205.5" r="2.35"/><circle cx="337.6" cy="187.1" r="2.35"/><circle cx="337.8" cy="182.8" r="2.35"/><circle cx="362.8" cy="202.2" r="2.35"/><circle cx="355.6" cy="202.5" r="2.35"/><circle cx="355.5" cy="189.1" r="2.35"/><circle cx="337.4" cy="184.4" r="2.35"/><circle cx="359.8" cy="187.0" r="2.35"/><circle cx="344.9" cy="192.5" r="2.35"/><circle cx="334.7" cy="188.3" r="2.35"/><circle cx="343.6" cy="199.8" r="2.35"/><circle cx="346.5" cy="189.9" r="2.35"/><circle cx="366.8" cy="194.5" r="2.35"/><circle cx="362.9" cy="197.4" r="2.35"/><circle cx="369.2" cy="192.2" r="2.35"/><circle cx="372.1" cy="201.2" r="2.35"/><circle cx="371.4" cy="199.5" r="2.35"/><circle cx="372.8" cy="187.3" r="2.35"/><circle cx="375.0" cy="184.2" r="2.35"/><circle cx="374.7" cy="186.2" r="2.35"/><circle cx="369.0" cy="187.0" r="2.35"/><circle cx="374.3" cy="206.4" r="2.35"/><circle cx="369.0" cy="194.2" r="2.35"/><circle cx="372.4" cy="201.8" r="2.35"/><circle cx="370.3" cy="194.3" r="2.35"/><circle cx="371.4" cy="202.7" r="2.35"/><circle cx="370.8" cy="205.5" r="2.35"/><circle cx="371.0" cy="187.3" r="2.35"/><circle cx="373.9" cy="194.4" r="2.35"/><circle cx="369.8" cy="197.8" r="2.35"/><circle cx="369.6" cy="201.6" r="2.35"/><circle cx="373.9" cy="201.6" r="2.35"/><circle cx="388.0" cy="183.8" r="2.35"/><circle cx="393.7" cy="185.3" r="2.35"/><circle cx="406.1" cy="181.9" r="2.35"/><circle cx="400.4" cy="188.1" r="2.35"/><circle cx="405.7" cy="188.1" r="2.35"/><circle cx="399.4" cy="190.6" r="2.35"/><circle cx="409.9" cy="190.4" r="2.35"/><circle cx="413.3" cy="194.4" r="2.35"/><circle cx="385.2" cy="194.4" r="2.35"/><circle cx="381.8" cy="195.7" r="2.35"/><circle cx="398.5" cy="195.7" r="2.35"/><circle cx="403.2" cy="196.7" r="2.35"/><circle cx="406.1" cy="195.7" r="2.35"/><circle cx="390.5" cy="200.8" r="2.35"/><circle cx="392.8" cy="200.5" r="2.35"/><circle cx="392.4" cy="206.5" r="2.35"/><circle cx="412.1" cy="206.2" r="2.35"/><circle cx="430.4" cy="182.4" r="2.35"/><circle cx="427.9" cy="190.4" r="2.35"/><circle cx="430.4" cy="195.7" r="2.35"/><circle cx="441.7" cy="182.4" r="2.35"/><circle cx="446.5" cy="181.5" r="2.35"/><circle cx="443.1" cy="187.2" r="2.35"/><circle cx="446.9" cy="185.7" r="2.35"/><circle cx="439.3" cy="191.0" r="2.35"/><circle cx="455.4" cy="189.5" r="2.35"/><circle cx="445.9" cy="196.7" r="2.35"/><circle cx="449.7" cy="194.8" r="2.35"/><circle cx="453.1" cy="195.7" r="2.35"/><circle cx="451.2" cy="198.6" r="2.35"/><circle cx="446.9" cy="198.6" r="2.35"/><circle cx="444.6" cy="205.6" r="2.35"/><circle cx="449.7" cy="206.5" r="2.35"/><circle cx="462.6" cy="197.6" r="2.35"/><circle cx="463.0" cy="203.3" r="2.35"/><circle cx="468.3" cy="194.4" r="2.35"/><circle cx="467.7" cy="184.9" r="2.35"/><circle cx="474.8" cy="184.9" r="2.35"/><circle cx="479.5" cy="185.7" r="2.35"/><circle cx="483.3" cy="181.5" r="2.35"/><circle cx="477.6" cy="196.7" r="2.35"/><circle cx="481.0" cy="202.0" r="2.35"/><circle cx="474.4" cy="202.4" r="2.35"/><circle cx="462.4" cy="199.5" r="2.35"/><circle cx="295.5" cy="183.1" r="2.35"/><circle cx="295.5" cy="191.4" r="2.35"/><circle cx="294.6" cy="199.3" r="2.35"/><circle cx="293.3" cy="203.7" r="2.35"/><circle cx="291.1" cy="186.1" r="2.35"/><circle cx="291.1" cy="188.8" r="2.35"/><circle cx="290.3" cy="193.6" r="2.35"/><circle cx="291.1" cy="199.3" r="2.35"/><circle cx="291.1" cy="202.8" r="2.35"/><circle cx="321.8" cy="187.0" r="2.35"/><circle cx="324.0" cy="187.9" r="2.35"/><circle cx="320.9" cy="203.7" r="2.35"/><circle cx="324.9" cy="204.1" r="2.35"/><circle cx="351.2" cy="242.3" r="2.35"/><circle cx="354.2" cy="241.8" r="2.35"/><circle cx="346.0" cy="236.2" r="2.35"/><circle cx="333.2" cy="240.5" r="2.35"/><circle cx="324.8" cy="235.3" r="2.35"/><circle cx="351.5" cy="242.6" r="2.35"/><circle cx="345.6" cy="231.1" r="2.35"/><circle cx="337.5" cy="236.2" r="2.35"/><circle cx="345.2" cy="235.0" r="2.35"/><circle cx="347.3" cy="248.1" r="2.35"/><circle cx="328.1" cy="241.2" r="2.35"/><circle cx="351.3" cy="234.5" r="2.35"/><circle cx="340.1" cy="249.2" r="2.35"/><circle cx="322.5" cy="238.4" r="2.35"/><circle cx="327.3" cy="244.3" r="2.35"/><circle cx="357.7" cy="237.8" r="2.35"/><circle cx="324.9" cy="239.2" r="2.35"/><circle cx="342.1" cy="242.7" r="2.35"/><circle cx="341.0" cy="240.8" r="2.35"/><circle cx="353.3" cy="237.8" r="2.35"/><circle cx="337.0" cy="248.5" r="2.35"/><circle cx="329.2" cy="241.9" r="2.35"/><circle cx="336.3" cy="243.9" r="2.35"/><circle cx="325.8" cy="249.4" r="2.35"/><circle cx="334.9" cy="226.2" r="2.35"/><circle cx="331.7" cy="234.8" r="2.35"/><circle cx="321.5" cy="235.3" r="2.35"/><circle cx="337.4" cy="242.3" r="2.35"/><circle cx="334.7" cy="231.4" r="2.35"/><circle cx="329.8" cy="243.3" r="2.35"/><circle cx="357.7" cy="238.0" r="2.35"/><circle cx="329.5" cy="244.8" r="2.35"/><circle cx="336.3" cy="230.1" r="2.35"/><circle cx="326.0" cy="244.2" r="2.35"/><circle cx="352.6" cy="240.7" r="2.35"/><circle cx="339.3" cy="238.9" r="2.35"/><circle cx="329.8" cy="248.9" r="2.35"/><circle cx="334.8" cy="240.8" r="2.35"/><circle cx="352.9" cy="245.2" r="2.35"/><circle cx="339.3" cy="232.2" r="2.35"/><circle cx="363.2" cy="227.9" r="2.35"/><circle cx="364.3" cy="233.7" r="2.35"/><circle cx="364.4" cy="231.5" r="2.35"/><circle cx="362.5" cy="231.1" r="2.35"/><circle cx="362.7" cy="229.5" r="2.35"/><circle cx="361.0" cy="242.8" r="2.35"/><circle cx="362.1" cy="230.9" r="2.35"/><circle cx="362.2" cy="236.8" r="2.35"/><circle cx="362.7" cy="240.7" r="2.35"/><circle cx="363.6" cy="233.9" r="2.35"/><circle cx="364.7" cy="246.2" r="2.35"/><circle cx="361.2" cy="245.5" r="2.35"/><circle cx="364.6" cy="244.4" r="2.35"/><circle cx="361.6" cy="245.6" r="2.35"/><circle cx="299.8" cy="232.2" r="2.35"/><circle cx="302.8" cy="226.9" r="2.35"/><circle cx="306.2" cy="228.0" r="2.35"/><circle cx="307.3" cy="232.2" r="2.35"/><circle cx="310.0" cy="233.7" r="2.35"/><circle cx="311.8" cy="229.9" r="2.35"/><circle cx="306.2" cy="238.6" r="2.35"/><circle cx="310.0" cy="241.2" r="2.35"/><circle cx="307.7" cy="240.1" r="2.35"/><circle cx="299.8" cy="238.2" r="2.35"/><circle cx="302.4" cy="246.9" r="2.35"/><circle cx="305.0" cy="248.0" r="2.35"/><circle cx="300.5" cy="245.4" r="2.35"/><circle cx="367.0" cy="225.6" r="2.35"/><circle cx="363.1" cy="230.0" r="2.35"/><circle cx="365.3" cy="237.0" r="2.35"/><circle cx="366.6" cy="242.3" r="2.35"/><circle cx="371.4" cy="236.6" r="2.35"/><circle cx="378.4" cy="234.4" r="2.35"/><circle cx="385.4" cy="239.6" r="2.35"/><circle cx="383.6" cy="243.2" r="2.35"/><circle cx="388.5" cy="225.6" r="2.35"/><circle cx="389.3" cy="230.5" r="2.35"/><circle cx="395.5" cy="230.0" r="2.35"/><circle cx="395.5" cy="232.6" r="2.35"/><circle cx="399.4" cy="236.1" r="2.35"/><circle cx="402.9" cy="230.5" r="2.35"/><circle cx="403.4" cy="234.4" r="2.35"/><circle cx="395.9" cy="244.0" r="2.35"/><circle cx="399.9" cy="242.7" r="2.35"/><circle cx="401.6" cy="249.3" r="2.35"/><circle cx="409.0" cy="230.9" r="2.35"/><circle cx="408.6" cy="238.3" r="2.35"/><circle cx="436.4" cy="224.1" r="2.35"/><circle cx="436.4" cy="227.9" r="2.35"/><circle cx="441.1" cy="225.5" r="2.35"/><circle cx="447.8" cy="227.4" r="2.35"/><circle cx="449.7" cy="228.3" r="2.35"/><circle cx="452.5" cy="225.0" r="2.35"/><circle cx="438.8" cy="235.0" r="2.35"/><circle cx="438.3" cy="238.8" r="2.35"/><circle cx="444.0" cy="232.6" r="2.35"/><circle cx="445.4" cy="238.3" r="2.35"/><circle cx="449.2" cy="234.0" r="2.35"/><circle cx="453.5" cy="235.9" r="2.35"/><circle cx="450.6" cy="242.6" r="2.35"/><circle cx="434.5" cy="248.7" r="2.35"/><circle cx="444.9" cy="248.3" r="2.35"/><circle cx="448.2" cy="247.3" r="2.35"/><circle cx="450.1" cy="248.3" r="2.35"/><circle cx="452.5" cy="248.7" r="2.35"/><circle cx="459.6" cy="232.6" r="2.35"/><circle cx="464.4" cy="233.6" r="2.35"/><circle cx="469.1" cy="231.2" r="2.35"/><circle cx="473.4" cy="232.6" r="2.35"/><circle cx="475.3" cy="225.0" r="2.35"/><circle cx="481.0" cy="232.6" r="2.35"/><circle cx="465.8" cy="244.0" r="2.35"/><circle cx="469.1" cy="249.2" r="2.35"/><circle cx="476.7" cy="244.9" r="2.35"/><circle cx="478.1" cy="246.4" r="2.35"/><circle cx="483.3" cy="249.2" r="2.35"/><circle cx="338.3" cy="274.5" r="2.35"/><circle cx="341.4" cy="287.9" r="2.35"/><circle cx="339.5" cy="290.5" r="2.35"/><circle cx="335.8" cy="269.8" r="2.35"/><circle cx="338.1" cy="287.6" r="2.35"/><circle cx="334.2" cy="286.5" r="2.35"/><circle cx="342.2" cy="273.5" r="2.35"/><circle cx="338.7" cy="284.6" r="2.35"/><circle cx="337.1" cy="272.9" r="2.35"/><circle cx="334.8" cy="286.5" r="2.35"/><circle cx="340.7" cy="279.2" r="2.35"/><circle cx="333.0" cy="287.9" r="2.35"/><circle cx="345.5" cy="273.5" r="2.35"/><circle cx="345.2" cy="290.1" r="2.35"/><circle cx="345.8" cy="280.7" r="2.35"/><circle cx="345.0" cy="282.4" r="2.35"/><circle cx="346.6" cy="270.9" r="2.35"/><circle cx="347.1" cy="275.1" r="2.35"/><circle cx="348.5" cy="278.0" r="2.35"/><circle cx="351.4" cy="270.9" r="2.35"/><circle cx="351.4" cy="274.7" r="2.35"/><circle cx="350.4" cy="272.8" r="2.35"/><circle cx="356.6" cy="271.3" r="2.35"/><circle cx="346.6" cy="281.8" r="2.35"/><circle cx="346.6" cy="287.5" r="2.35"/><circle cx="353.8" cy="289.4" r="2.35"/><circle cx="353.3" cy="288.9" r="2.35"/><circle cx="372.3" cy="269.4" r="2.35"/><circle cx="377.0" cy="267.5" r="2.35"/><circle cx="375.6" cy="274.2" r="2.35"/><circle cx="371.3" cy="277.5" r="2.35"/><circle cx="371.3" cy="280.8" r="2.35"/><circle cx="369.9" cy="287.5" r="2.35"/><circle cx="369.4" cy="289.8" r="2.35"/><circle cx="367.0" cy="292.2" r="2.35"/><circle cx="387.0" cy="274.2" r="2.35"/><circle cx="391.7" cy="272.3" r="2.35"/><circle cx="391.7" cy="278.9" r="2.35"/><circle cx="386.0" cy="283.7" r="2.35"/><circle cx="389.3" cy="286.0" r="2.35"/><circle cx="391.7" cy="285.1" r="2.35"/><circle cx="391.2" cy="290.3" r="2.35"/><circle cx="394.6" cy="292.2" r="2.35"/><circle cx="400.7" cy="287.9" r="2.35"/><circle cx="390.3" cy="288.9" r="2.35"/><circle cx="422.8" cy="271.3" r="2.35"/><circle cx="424.3" cy="270.2" r="2.35"/><circle cx="425.8" cy="272.3" r="2.35"/><circle cx="427.9" cy="273.8" r="2.35"/><circle cx="429.9" cy="271.8" r="2.35"/><circle cx="432.0" cy="272.3" r="2.35"/><circle cx="433.5" cy="267.7" r="2.35"/><circle cx="438.1" cy="269.2" r="2.35"/><circle cx="440.1" cy="273.3" r="2.35"/><circle cx="418.7" cy="278.9" r="2.35"/><circle cx="420.7" cy="281.5" r="2.35"/><circle cx="424.3" cy="278.4" r="2.35"/><circle cx="423.8" cy="283.5" r="2.35"/><circle cx="427.9" cy="282.0" r="2.35"/><circle cx="432.0" cy="277.9" r="2.35"/><circle cx="431.5" cy="280.5" r="2.35"/><circle cx="429.4" cy="285.6" r="2.35"/><circle cx="436.1" cy="286.6" r="2.35"/><circle cx="438.6" cy="286.6" r="2.35"/><circle cx="423.3" cy="281.0" r="2.35"/><circle cx="451.4" cy="291.7" r="2.35"/><circle cx="456.5" cy="279.4" r="2.35"/><circle cx="463.6" cy="269.2" r="2.35"/><circle cx="467.2" cy="271.8" r="2.35"/><circle cx="463.6" cy="273.8" r="2.35"/><circle cx="473.4" cy="268.7" r="2.35"/><circle cx="474.4" cy="274.8" r="2.35"/><circle cx="465.7" cy="285.6" r="2.35"/><circle cx="467.7" cy="286.6" r="2.35"/><circle cx="469.8" cy="284.5" r="2.35"/><circle cx="467.2" cy="284.0" r="2.35"/><circle cx="299.7" cy="312.7" r="2.35"/><circle cx="299.2" cy="315.0" r="2.35"/><circle cx="299.9" cy="312.2" r="2.35"/><circle cx="299.4" cy="315.5" r="2.35"/><circle cx="297.4" cy="312.1" r="2.35"/><circle cx="341.3" cy="328.5" r="2.35"/><circle cx="330.6" cy="313.7" r="2.35"/><circle cx="336.4" cy="323.1" r="2.35"/><circle cx="333.6" cy="313.6" r="2.35"/><circle cx="335.3" cy="314.0" r="2.35"/><circle cx="337.7" cy="332.1" r="2.35"/><circle cx="331.9" cy="324.9" r="2.35"/><circle cx="339.7" cy="314.7" r="2.35"/><circle cx="340.7" cy="334.0" r="2.35"/><circle cx="335.1" cy="321.1" r="2.35"/><circle cx="340.9" cy="323.7" r="2.35"/><circle cx="335.1" cy="334.1" r="2.35"/><circle cx="340.1" cy="319.1" r="2.35"/><circle cx="333.1" cy="319.0" r="2.35"/><circle cx="335.7" cy="335.1" r="2.35"/><circle cx="347.2" cy="333.4" r="2.35"/><circle cx="347.3" cy="331.8" r="2.35"/><circle cx="344.2" cy="323.5" r="2.35"/><circle cx="347.8" cy="333.9" r="2.35"/><circle cx="345.0" cy="321.1" r="2.35"/><circle cx="346.5" cy="319.7" r="2.35"/><circle cx="346.1" cy="312.3" r="2.35"/><circle cx="345.7" cy="323.2" r="2.35"/><circle cx="344.1" cy="314.1" r="2.35"/><circle cx="347.9" cy="330.0" r="2.35"/><circle cx="347.7" cy="326.4" r="2.35"/><circle cx="347.2" cy="332.7" r="2.35"/><circle cx="293.3" cy="333.0" r="2.35"/><circle cx="350.5" cy="316.5" r="2.35"/><circle cx="351.8" cy="328.7" r="2.35"/><circle cx="349.6" cy="335.3" r="2.35"/><circle cx="347.0" cy="326.5" r="2.35"/><circle cx="345.3" cy="330.0" r="2.35"/><circle cx="345.3" cy="320.4" r="2.35"/><circle cx="346.1" cy="314.3" r="2.35"/><circle cx="367.2" cy="311.6" r="2.35"/><circle cx="369.8" cy="310.3" r="2.35"/><circle cx="372.4" cy="312.5" r="2.35"/><circle cx="368.5" cy="321.3" r="2.35"/><circle cx="372.4" cy="320.0" r="2.35"/><circle cx="366.7" cy="326.5" r="2.35"/><circle cx="372.8" cy="331.3" r="2.35"/><circle cx="372.4" cy="335.3" r="2.35"/><circle cx="366.3" cy="335.7" r="2.35"/><circle cx="384.2" cy="316.5" r="2.35"/><circle cx="386.4" cy="313.8" r="2.35"/><circle cx="387.3" cy="317.3" r="2.35"/><circle cx="385.1" cy="320.8" r="2.35"/><circle cx="392.1" cy="310.8" r="2.35"/><circle cx="390.8" cy="320.0" r="2.35"/><circle cx="387.7" cy="327.4" r="2.35"/><circle cx="386.9" cy="330.5" r="2.35"/><circle cx="396.9" cy="329.2" r="2.35"/><circle cx="416.8" cy="323.7" r="2.35"/><circle cx="419.4" cy="317.5" r="2.35"/><circle cx="421.2" cy="316.6" r="2.35"/><circle cx="422.0" cy="322.8" r="2.35"/><circle cx="422.9" cy="327.2" r="2.35"/><circle cx="422.9" cy="330.7" r="2.35"/><circle cx="423.4" cy="333.3" r="2.35"/><circle cx="426.4" cy="318.4" r="2.35"/><circle cx="427.3" cy="321.9" r="2.35"/><circle cx="429.1" cy="311.4" r="2.35"/><circle cx="430.8" cy="311.4" r="2.35"/><circle cx="429.9" cy="331.5" r="2.35"/><circle cx="434.3" cy="316.6" r="2.35"/><circle cx="436.1" cy="314.9" r="2.35"/><circle cx="436.9" cy="314.0" r="2.35"/><circle cx="439.6" cy="327.2" r="2.35"/><circle cx="436.9" cy="335.0" r="2.35"/><circle cx="450.6" cy="335.0" r="2.35"/><circle cx="456.2" cy="311.0" r="2.35"/><circle cx="463.2" cy="310.5" r="2.35"/><circle cx="465.8" cy="314.9" r="2.35"/><circle cx="472.9" cy="312.6" r="2.35"/><circle cx="463.7" cy="322.8" r="2.35"/><circle cx="469.3" cy="324.5" r="2.35"/><circle cx="467.6" cy="329.8" r="2.35"/><circle cx="473.7" cy="330.7" r="2.35"/><circle cx="326.9" cy="363.1" r="2.35"/><circle cx="322.6" cy="375.7" r="2.35"/><circle cx="328.4" cy="377.5" r="2.35"/><circle cx="326.8" cy="369.0" r="2.35"/><circle cx="324.7" cy="354.6" r="2.35"/><circle cx="332.2" cy="374.8" r="2.35"/><circle cx="325.5" cy="376.0" r="2.35"/><circle cx="331.0" cy="361.1" r="2.35"/><circle cx="328.6" cy="377.5" r="2.35"/><circle cx="327.5" cy="377.2" r="2.35"/><circle cx="324.7" cy="363.2" r="2.35"/><circle cx="329.9" cy="359.0" r="2.35"/><circle cx="325.4" cy="375.4" r="2.35"/><circle cx="327.3" cy="373.3" r="2.35"/><circle cx="324.7" cy="357.8" r="2.35"/><circle cx="325.9" cy="358.1" r="2.35"/><circle cx="332.7" cy="360.7" r="2.35"/><circle cx="328.2" cy="356.4" r="2.35"/><circle cx="327.9" cy="363.1" r="2.35"/><circle cx="326.4" cy="355.1" r="2.35"/><circle cx="334.4" cy="374.1" r="2.35"/><circle cx="336.9" cy="359.6" r="2.35"/><circle cx="335.1" cy="360.6" r="2.35"/><circle cx="335.6" cy="354.4" r="2.35"/><circle cx="340.3" cy="362.0" r="2.35"/><circle cx="334.7" cy="371.1" r="2.35"/><circle cx="334.0" cy="360.2" r="2.35"/><circle cx="342.2" cy="356.7" r="2.35"/><circle cx="337.9" cy="374.4" r="2.35"/><circle cx="341.9" cy="357.5" r="2.35"/><circle cx="336.9" cy="371.5" r="2.35"/><circle cx="337.1" cy="377.4" r="2.35"/><circle cx="335.3" cy="377.3" r="2.35"/><circle cx="338.6" cy="359.2" r="2.35"/><circle cx="338.0" cy="356.8" r="2.35"/><circle cx="340.8" cy="360.0" r="2.35"/><circle cx="342.9" cy="368.2" r="2.35"/><circle cx="337.0" cy="359.6" r="2.35"/><circle cx="339.7" cy="358.8" r="2.35"/><circle cx="342.6" cy="356.5" r="2.35"/><circle cx="338.6" cy="367.0" r="2.35"/><circle cx="336.0" cy="372.8" r="2.35"/><circle cx="337.2" cy="369.9" r="2.35"/><circle cx="339.2" cy="361.2" r="2.35"/><circle cx="337.3" cy="355.6" r="2.35"/><circle cx="334.9" cy="374.8" r="2.35"/><circle cx="336.5" cy="370.0" r="2.35"/><circle cx="334.2" cy="367.5" r="2.35"/><circle cx="337.0" cy="366.0" r="2.35"/><circle cx="336.3" cy="355.1" r="2.35"/><circle cx="304.1" cy="411.9" r="2.35"/><circle cx="301.2" cy="414.2" r="2.35"/><circle cx="305.0" cy="415.8" r="2.35"/><circle cx="300.7" cy="409.1" r="2.35"/><circle cx="300.7" cy="418.5" r="2.35"/><circle cx="301.1" cy="415.5" r="2.35"/><circle cx="301.7" cy="417.1" r="2.35"/><circle cx="302.3" cy="410.6" r="2.35"/><circle cx="305.3" cy="415.3" r="2.35"/><circle cx="304.1" cy="418.6" r="2.35"/><circle cx="305.7" cy="409.0" r="2.35"/><circle cx="302.1" cy="410.7" r="2.35"/><circle cx="324.5" cy="418.2" r="2.35"/><circle cx="325.4" cy="407.3" r="2.35"/><circle cx="323.5" cy="417.5" r="2.35"/><circle cx="325.0" cy="412.0" r="2.35"/><circle cx="324.4" cy="408.9" r="2.35"/><circle cx="327.1" cy="420.8" r="2.35"/><circle cx="332.8" cy="421.3" r="2.35"/><circle cx="343.2" cy="420.5" r="2.35"/><circle cx="291.8" cy="442.4" r="2.35"/><circle cx="291.6" cy="446.2" r="2.35"/><circle cx="290.5" cy="455.1" r="2.35"/><circle cx="292.2" cy="452.5" r="2.35"/><circle cx="308.8" cy="449.3" r="2.35"/><circle cx="310.7" cy="458.7" r="2.35"/><circle cx="291.9" cy="487.9" r="2.35"/><circle cx="292.8" cy="498.4" r="2.35"/><circle cx="291.7" cy="495.0" r="2.35"/><circle cx="293.4" cy="497.8" r="2.35"/><circle cx="290.5" cy="493.5" r="2.35"/><circle cx="290.6" cy="488.2" r="2.35"/><circle cx="293.3" cy="492.5" r="2.35"/><circle cx="292.6" cy="493.1" r="2.35"/><circle cx="308.2" cy="498.1" r="2.35"/><circle cx="308.2" cy="502.6" r="2.35"/><circle cx="308.7" cy="498.7" r="2.35"/><circle cx="307.7" cy="498.6" r="2.35"/><circle cx="308.9" cy="499.7" r="2.35"/></g><g stroke="#000" stroke-width="1.15" fill="none"><line x1="352.9" y1="22.85" x2="411.2" y2="22.85"/><line x1="489.3" y1="22.85" x2="562.5" y2="22.85"/><line x1="352.9" y1="12.25" x2="352.9" y2="33.45"/><line x1="562.5" y1="12.25" x2="562.5" y2="33.45"/><rect x="411.2" y="12.25" width="78.10" height="21.20" fill="#ffa500"/><line x1="432.1" y1="12.25" x2="432.1" y2="33.45"/><line x1="326.7" y1="65.74" x2="373.3" y2="65.74"/><line x1="456.0" y1="65.74" x2="558.1" y2="65.74"/><line x1="326.7" y1="55.14" x2="326.7" y2="76.34"/><line x1="558.1" y1="55.14" x2="558.1" y2="76.34"/><rect x="373.3" y="55.14" width="82.70" height="21.20" fill="#ffa500"/><line x1="404.3" y1="55.14" x2="404.3" y2="76.34"/><line x1="311.4" y1="108.63" x2="366.4" y2="108.63"/><line x1="411.4" y1="108.63" x2="467.8" y2="108.63"/><line x1="311.4" y1="98.03" x2="311.4" y2="119.23"/><line x1="467.8" y1="98.03" x2="467.8" y2="119.23"/><rect x="366.4" y="98.03" width="45.00" height="21.20" fill="#ffa500"/><line x1="387.4" y1="98.03" x2="387.4" y2="119.23"/><line x1="309.2" y1="151.52" x2="346.6" y2="151.52"/><line x1="394.6" y1="151.52" x2="465.4" y2="151.52"/><line x1="309.2" y1="140.92" x2="309.2" y2="162.12"/><line x1="465.4" y1="140.92" x2="465.4" y2="162.12"/><rect x="346.6" y="140.92" width="48.00" height="21.20" fill="#ffa500"/><line x1="367.4" y1="140.92" x2="367.4" y2="162.12"/><line x1="291.0" y1="194.41" x2="333.4" y2="194.41"/><line x1="367.6" y1="194.41" x2="412.3" y2="194.41"/><line x1="291.0" y1="183.81" x2="291.0" y2="205.01"/><line x1="412.3" y1="183.81" x2="412.3" y2="205.01"/><rect x="333.4" y="183.81" width="34.20" height="21.20" fill="#ffa500"/><line x1="343.2" y1="183.81" x2="343.2" y2="205.01"/><line x1="300.6" y1="237.30" x2="320.7" y2="237.30"/><line x1="360.2" y1="237.30" x2="407.7" y2="237.30"/><line x1="300.6" y1="226.70" x2="300.6" y2="247.90"/><line x1="407.7" y1="226.70" x2="407.7" y2="247.90"/><rect x="320.7" y="226.70" width="39.50" height="21.20" fill="#ffa500"/><line x1="331.4" y1="226.70" x2="331.4" y2="247.90"/><line x1="305.6" y1="280.20" x2="315.7" y2="280.20"/><line x1="343.5" y1="280.20" x2="377.0" y2="280.20"/><line x1="305.6" y1="269.60" x2="305.6" y2="290.80"/><line x1="377.0" y1="269.60" x2="377.0" y2="290.80"/><rect x="315.7" y="269.60" width="27.80" height="21.20" fill="#ffa500"/><line x1="327.4" y1="269.60" x2="327.4" y2="290.80"/><line x1="293.4" y1="323.09" x2="310.4" y2="323.09"/><line x1="342.8" y1="323.09" x2="389.7" y2="323.09"/><line x1="293.4" y1="312.49" x2="293.4" y2="333.69"/><line x1="389.7" y1="312.49" x2="389.7" y2="333.69"/><rect x="310.4" y="312.49" width="32.40" height="21.20" fill="#ffa500"/><line x1="319.3" y1="312.49" x2="319.3" y2="333.69"/><line x1="308.3" y1="365.98" x2="312.5" y2="365.98"/><line x1="321.2" y1="365.98" x2="333.6" y2="365.98"/><line x1="308.3" y1="355.38" x2="308.3" y2="376.58"/><line x1="333.6" y1="355.38" x2="333.6" y2="376.58"/><rect x="312.5" y="355.38" width="8.70" height="21.20" fill="#ffa500"/><line x1="314.3" y1="355.38" x2="314.3" y2="376.58"/><line x1="302.5" y1="408.87" x2="309.4" y2="408.87"/><line x1="314.5" y1="408.87" x2="321.6" y2="408.87"/><line x1="302.5" y1="398.27" x2="302.5" y2="419.47"/><line x1="321.6" y1="398.27" x2="321.6" y2="419.47"/><rect x="309.4" y="398.27" width="5.10" height="21.20" fill="#ffa500"/><line x1="312.3" y1="398.27" x2="312.3" y2="419.47"/><line x1="294.5" y1="451.76" x2="299.5" y2="451.76"/><line x1="303.2" y1="451.76" x2="306.6" y2="451.76"/><line x1="294.5" y1="441.16" x2="294.5" y2="462.36"/><line x1="306.6" y1="441.16" x2="306.6" y2="462.36"/><rect x="299.5" y="441.16" width="3.70" height="21.20" fill="#ffa500"/><line x1="301.8" y1="441.16" x2="301.8" y2="462.36"/><line x1="293.7" y1="494.65" x2="299.5" y2="494.65"/><line x1="303.3" y1="494.65" x2="307.9" y2="494.65"/><line x1="293.7" y1="484.05" x2="293.7" y2="505.25"/><line x1="307.9" y1="484.05" x2="307.9" y2="505.25"/><rect x="299.5" y="484.05" width="3.80" height="21.20" fill="#ffa500"/><line x1="301.4" y1="484.05" x2="301.4" y2="505.25"/></g><rect x="265.0" y="44.29" width="418.10" height="42.89" fill="#ffa500" fill-opacity="0.25"/><rect x="265.0" y="130.08" width="418.10" height="42.89" fill="#ffa500" fill-opacity="0.25"/><rect x="265.0" y="215.86" width="418.10" height="42.89" fill="#ffa500" fill-opacity="0.25"/><rect x="265.0" y="301.64" width="418.10" height="42.89" fill="#ffa500" fill-opacity="0.25"/><rect x="265.0" y="387.43" width="418.10" height="42.89" fill="#ffa500" fill-opacity="0.25"/><rect x="265.0" y="473.21" width="418.10" height="42.89" fill="#ffa500" fill-opacity="0.25"/><rect x="265.0" y="1.4" width="418.10" height="514.70" fill="none" stroke="#000" stroke-width="1.5"/><line x1="291.00" y1="516.1" x2="291.00" y2="522.8000000000001" stroke="#000" stroke-width="1.3"/><text transform="translate(291.00,542.70) scale(1,1.03)" font-size="16.4" font-weight="bold" text-anchor="middle">0.0</text><line x1="395.67" y1="516.1" x2="395.67" y2="522.8000000000001" stroke="#000" stroke-width="1.3"/><text transform="translate(395.67,542.70) scale(1,1.03)" font-size="16.4" font-weight="bold" text-anchor="middle">0.2</text><line x1="500.33" y1="516.1" x2="500.33" y2="522.8000000000001" stroke="#000" stroke-width="1.3"/><text transform="translate(500.33,542.70) scale(1,1.03)" font-size="16.4" font-weight="bold" text-anchor="middle">0.4</text><line x1="605.00" y1="516.1" x2="605.00" y2="522.8000000000001" stroke="#000" stroke-width="1.3"/><text transform="translate(605.00,542.70) scale(1,1.03)" font-size="16.4" font-weight="bold" text-anchor="middle">0.6</text><text transform="translate(348.60,580.00) scale(1,1.03)" font-size="16.6" font-weight="bold">F</text><text transform="translate(369.90,580.00) scale(1,1.03)" font-size="16.6" font-weight="bold">(Candidate)</text><text transform="translate(466.90,580.00) scale(1,1.03)" font-size="16.6" font-weight="bold">-</text><text transform="translate(477.40,580.00) scale(1,1.03)" font-size="16.6" font-weight="bold">F</text><text transform="translate(499.00,580.00) scale(1,1.03)" font-size="16.6" font-weight="bold">(Real)</text><path d="M359.60,577.60 L361.00,576.90 L361.90,575.70 L361.90,582.60" fill="none" stroke="#000" stroke-width="1.15" stroke-linejoin="miter"/><path d="M487.90,577.60 L489.30,576.90 L490.20,575.70 L490.20,582.60" fill="none" stroke="#000" stroke-width="1.15" stroke-linejoin="miter"/><g><text transform="translate(1.50,178.70) scale(1,1.0)" font-size="15" font-weight="bold">Selection Method</text><line x1="1.2" y1="180.6" x2="126.4" y2="180.6" stroke="#000" stroke-width="1"/><rect x="3.6" y="188.20" width="27.9" height="15.20" fill="#ffa500" stroke="#000" stroke-width="1"/><text transform="translate(36.70,201.40) scale(1,1.0)" font-size="15.1">Random Rows</text><rect x="3.6" y="203.40" width="27.9" height="15.20" fill="#458b00" stroke="#000" stroke-width="1"/><text transform="translate(36.70,216.60) scale(1,1.0)" font-size="15.1">Equal per Caller</text><rect x="3.6" y="218.60" width="27.9" height="15.20" fill="#68228b" stroke="#000" stroke-width="1"/><text transform="translate(36.70,231.80) scale(1,1.0)" font-size="15.1">Equal per Overlap</text><rect x="3.6" y="233.80" width="27.9" height="15.20" fill="#ffd700" stroke="#000" stroke-width="1"/><text transform="translate(36.70,247.00) scale(1,1.0)" font-size="15.1">Increasing per Overlap</text><rect x="3.6" y="249.00" width="27.9" height="15.20" fill="#1e90ff" stroke="#000" stroke-width="1"/><text transform="translate(36.70,262.20) scale(1,1.0)" font-size="15.1">Decreasing per Overlap</text><rect x="3.6" y="264.20" width="27.9" height="15.20" fill="#cd2626" stroke="#000" stroke-width="1"/><text transform="translate(36.70,277.40) scale(1,1.0)" font-size="15.1">Directed Sampling</text><text transform="translate(1.50,310.10) scale(1,1.0)" font-size="15" font-weight="bold">Mode</text><line x1="1.2" y1="312.0" x2="40.8" y2="312.0" stroke="#000" stroke-width="1"/><rect x="3.6" y="319.70" width="27.9" height="15.20" fill="#4d474e" stroke="#000" stroke-width="1"/><text transform="translate(36.70,332.90) scale(1,1.0)" font-size="15.1">Default</text><rect x="3.6" y="335.00" width="27.9" height="15.20" fill="#9be64b" stroke="#000" stroke-width="1"/><text transform="translate(36.70,348.20) scale(1,1.0)" font-size="15.1">Weighted</text></g></svg></body></html>
